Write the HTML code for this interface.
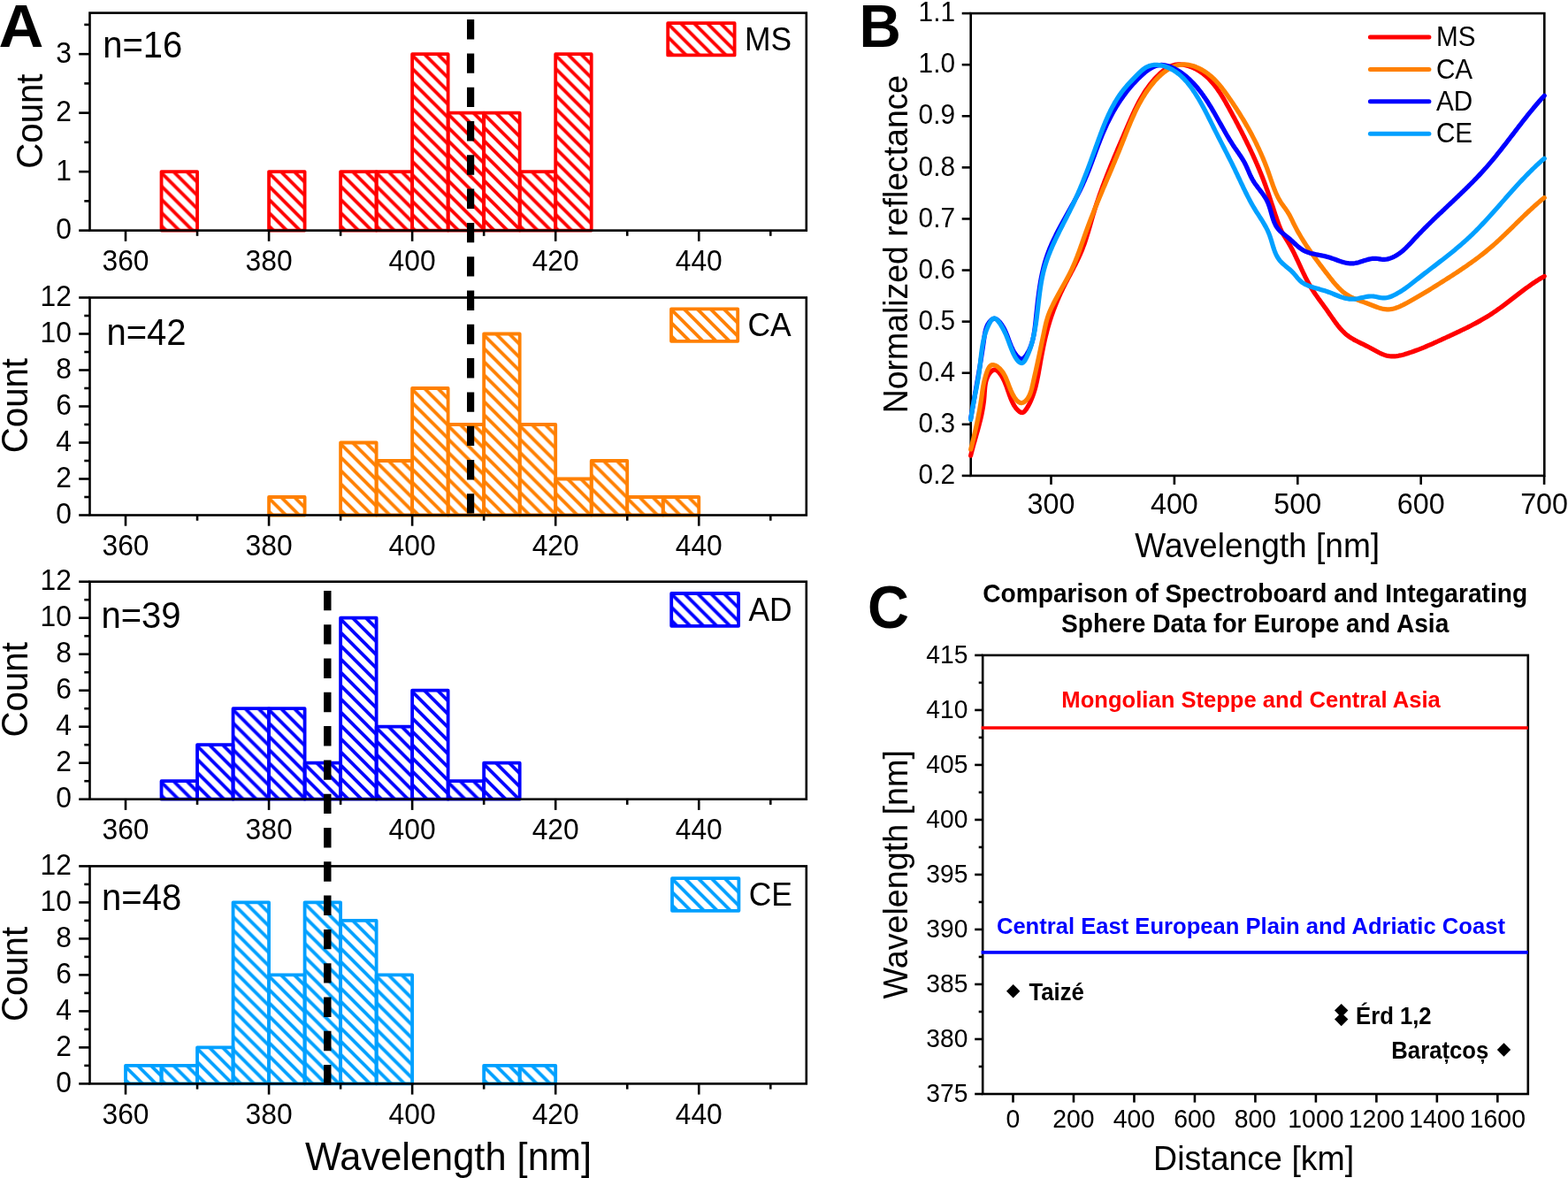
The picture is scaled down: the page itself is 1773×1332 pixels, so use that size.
<!DOCTYPE html><html><head><meta charset="utf-8"><title>Figure</title><style>html,body{margin:0;padding:0;background:#fff;width:1773px;height:1332px;overflow:hidden}svg{display:block}</style></head><body><svg width="1773" height="1332" viewBox="0 0 1773 1332" style="font-family:'Liberation Sans',Arial,sans-serif"><defs><pattern id="h1" patternUnits="userSpaceOnUse" x="182.53" y="195.41" width="15" height="15"><path d="M-4,-4L19,19M-19,-4L4,19M11,-4L34,19" stroke="#ff0000" stroke-width="3.8"/></pattern><pattern id="h2" patternUnits="userSpaceOnUse" x="304.07" y="195.41" width="15" height="15"><path d="M-4,-4L19,19M-19,-4L4,19M11,-4L34,19" stroke="#ff0000" stroke-width="3.8"/></pattern><pattern id="h3" patternUnits="userSpaceOnUse" x="385.11" y="195.41" width="15" height="15"><path d="M-4,-4L19,19M-19,-4L4,19M11,-4L34,19" stroke="#ff0000" stroke-width="3.8"/></pattern><pattern id="h4" patternUnits="userSpaceOnUse" x="425.62" y="195.41" width="15" height="15"><path d="M-4,-4L19,19M-19,-4L4,19M11,-4L34,19" stroke="#ff0000" stroke-width="3.8"/></pattern><pattern id="h5" patternUnits="userSpaceOnUse" x="466.13" y="62.44" width="15" height="15"><path d="M-4,-4L19,19M-19,-4L4,19M11,-4L34,19" stroke="#ff0000" stroke-width="3.8"/></pattern><pattern id="h6" patternUnits="userSpaceOnUse" x="506.65" y="128.93" width="15" height="15"><path d="M-4,-4L19,19M-19,-4L4,19M11,-4L34,19" stroke="#ff0000" stroke-width="3.8"/></pattern><pattern id="h7" patternUnits="userSpaceOnUse" x="547.16" y="128.93" width="15" height="15"><path d="M-4,-4L19,19M-19,-4L4,19M11,-4L34,19" stroke="#ff0000" stroke-width="3.8"/></pattern><pattern id="h8" patternUnits="userSpaceOnUse" x="587.68" y="195.41" width="15" height="15"><path d="M-4,-4L19,19M-19,-4L4,19M11,-4L34,19" stroke="#ff0000" stroke-width="3.8"/></pattern><pattern id="h9" patternUnits="userSpaceOnUse" x="628.20" y="62.44" width="15" height="15"><path d="M-4,-4L19,19M-19,-4L4,19M11,-4L34,19" stroke="#ff0000" stroke-width="3.8"/></pattern><pattern id="h10" patternUnits="userSpaceOnUse" x="755.20" y="26.70" width="15" height="15"><path d="M-4,-4L19,19M-19,-4L4,19M11,-4L34,19" stroke="#ff0000" stroke-width="3.8"/></pattern><pattern id="h11" patternUnits="userSpaceOnUse" x="304.07" y="563.30" width="15" height="15"><path d="M-4,-4L19,19M-19,-4L4,19M11,-4L34,19" stroke="#ff8000" stroke-width="3.8"/></pattern><pattern id="h12" patternUnits="userSpaceOnUse" x="385.11" y="501.80" width="15" height="15"><path d="M-4,-4L19,19M-19,-4L4,19M11,-4L34,19" stroke="#ff8000" stroke-width="3.8"/></pattern><pattern id="h13" patternUnits="userSpaceOnUse" x="425.62" y="522.30" width="15" height="15"><path d="M-4,-4L19,19M-19,-4L4,19M11,-4L34,19" stroke="#ff8000" stroke-width="3.8"/></pattern><pattern id="h14" patternUnits="userSpaceOnUse" x="466.13" y="440.30" width="15" height="15"><path d="M-4,-4L19,19M-19,-4L4,19M11,-4L34,19" stroke="#ff8000" stroke-width="3.8"/></pattern><pattern id="h15" patternUnits="userSpaceOnUse" x="506.65" y="481.30" width="15" height="15"><path d="M-4,-4L19,19M-19,-4L4,19M11,-4L34,19" stroke="#ff8000" stroke-width="3.8"/></pattern><pattern id="h16" patternUnits="userSpaceOnUse" x="547.16" y="378.80" width="15" height="15"><path d="M-4,-4L19,19M-19,-4L4,19M11,-4L34,19" stroke="#ff8000" stroke-width="3.8"/></pattern><pattern id="h17" patternUnits="userSpaceOnUse" x="587.68" y="481.30" width="15" height="15"><path d="M-4,-4L19,19M-19,-4L4,19M11,-4L34,19" stroke="#ff8000" stroke-width="3.8"/></pattern><pattern id="h18" patternUnits="userSpaceOnUse" x="628.20" y="542.80" width="15" height="15"><path d="M-4,-4L19,19M-19,-4L4,19M11,-4L34,19" stroke="#ff8000" stroke-width="3.8"/></pattern><pattern id="h19" patternUnits="userSpaceOnUse" x="668.71" y="522.30" width="15" height="15"><path d="M-4,-4L19,19M-19,-4L4,19M11,-4L34,19" stroke="#ff8000" stroke-width="3.8"/></pattern><pattern id="h20" patternUnits="userSpaceOnUse" x="709.23" y="563.30" width="15" height="15"><path d="M-4,-4L19,19M-19,-4L4,19M11,-4L34,19" stroke="#ff8000" stroke-width="3.8"/></pattern><pattern id="h21" patternUnits="userSpaceOnUse" x="749.74" y="563.30" width="15" height="15"><path d="M-4,-4L19,19M-19,-4L4,19M11,-4L34,19" stroke="#ff8000" stroke-width="3.8"/></pattern><pattern id="h22" patternUnits="userSpaceOnUse" x="759.00" y="349.90" width="15" height="15"><path d="M-4,-4L19,19M-19,-4L4,19M11,-4L34,19" stroke="#ff8000" stroke-width="3.8"/></pattern><pattern id="h23" patternUnits="userSpaceOnUse" x="182.53" y="884.50" width="15" height="15"><path d="M-4,-4L19,19M-19,-4L4,19M11,-4L34,19" stroke="#0000ff" stroke-width="3.8"/></pattern><pattern id="h24" patternUnits="userSpaceOnUse" x="223.05" y="843.50" width="15" height="15"><path d="M-4,-4L19,19M-19,-4L4,19M11,-4L34,19" stroke="#0000ff" stroke-width="3.8"/></pattern><pattern id="h25" patternUnits="userSpaceOnUse" x="263.56" y="802.50" width="15" height="15"><path d="M-4,-4L19,19M-19,-4L4,19M11,-4L34,19" stroke="#0000ff" stroke-width="3.8"/></pattern><pattern id="h26" patternUnits="userSpaceOnUse" x="304.07" y="802.50" width="15" height="15"><path d="M-4,-4L19,19M-19,-4L4,19M11,-4L34,19" stroke="#0000ff" stroke-width="3.8"/></pattern><pattern id="h27" patternUnits="userSpaceOnUse" x="344.59" y="864.00" width="15" height="15"><path d="M-4,-4L19,19M-19,-4L4,19M11,-4L34,19" stroke="#0000ff" stroke-width="3.8"/></pattern><pattern id="h28" patternUnits="userSpaceOnUse" x="385.11" y="700.00" width="15" height="15"><path d="M-4,-4L19,19M-19,-4L4,19M11,-4L34,19" stroke="#0000ff" stroke-width="3.8"/></pattern><pattern id="h29" patternUnits="userSpaceOnUse" x="425.62" y="823.00" width="15" height="15"><path d="M-4,-4L19,19M-19,-4L4,19M11,-4L34,19" stroke="#0000ff" stroke-width="3.8"/></pattern><pattern id="h30" patternUnits="userSpaceOnUse" x="466.13" y="782.00" width="15" height="15"><path d="M-4,-4L19,19M-19,-4L4,19M11,-4L34,19" stroke="#0000ff" stroke-width="3.8"/></pattern><pattern id="h31" patternUnits="userSpaceOnUse" x="506.65" y="884.50" width="15" height="15"><path d="M-4,-4L19,19M-19,-4L4,19M11,-4L34,19" stroke="#0000ff" stroke-width="3.8"/></pattern><pattern id="h32" patternUnits="userSpaceOnUse" x="547.16" y="864.00" width="15" height="15"><path d="M-4,-4L19,19M-19,-4L4,19M11,-4L34,19" stroke="#0000ff" stroke-width="3.8"/></pattern><pattern id="h33" patternUnits="userSpaceOnUse" x="759.20" y="671.50" width="15" height="15"><path d="M-4,-4L19,19M-19,-4L4,19M11,-4L34,19" stroke="#0000ff" stroke-width="3.8"/></pattern><pattern id="h34" patternUnits="userSpaceOnUse" x="142.01" y="1206.20" width="15" height="15"><path d="M-4,-4L19,19M-19,-4L4,19M11,-4L34,19" stroke="#00a0ff" stroke-width="3.8"/></pattern><pattern id="h35" patternUnits="userSpaceOnUse" x="182.53" y="1206.20" width="15" height="15"><path d="M-4,-4L19,19M-19,-4L4,19M11,-4L34,19" stroke="#00a0ff" stroke-width="3.8"/></pattern><pattern id="h36" patternUnits="userSpaceOnUse" x="223.05" y="1185.70" width="15" height="15"><path d="M-4,-4L19,19M-19,-4L4,19M11,-4L34,19" stroke="#00a0ff" stroke-width="3.8"/></pattern><pattern id="h37" patternUnits="userSpaceOnUse" x="263.56" y="1021.70" width="15" height="15"><path d="M-4,-4L19,19M-19,-4L4,19M11,-4L34,19" stroke="#00a0ff" stroke-width="3.8"/></pattern><pattern id="h38" patternUnits="userSpaceOnUse" x="304.07" y="1103.70" width="15" height="15"><path d="M-4,-4L19,19M-19,-4L4,19M11,-4L34,19" stroke="#00a0ff" stroke-width="3.8"/></pattern><pattern id="h39" patternUnits="userSpaceOnUse" x="344.59" y="1021.70" width="15" height="15"><path d="M-4,-4L19,19M-19,-4L4,19M11,-4L34,19" stroke="#00a0ff" stroke-width="3.8"/></pattern><pattern id="h40" patternUnits="userSpaceOnUse" x="385.11" y="1042.20" width="15" height="15"><path d="M-4,-4L19,19M-19,-4L4,19M11,-4L34,19" stroke="#00a0ff" stroke-width="3.8"/></pattern><pattern id="h41" patternUnits="userSpaceOnUse" x="425.62" y="1103.70" width="15" height="15"><path d="M-4,-4L19,19M-19,-4L4,19M11,-4L34,19" stroke="#00a0ff" stroke-width="3.8"/></pattern><pattern id="h42" patternUnits="userSpaceOnUse" x="547.16" y="1206.20" width="15" height="15"><path d="M-4,-4L19,19M-19,-4L4,19M11,-4L34,19" stroke="#00a0ff" stroke-width="3.8"/></pattern><pattern id="h43" patternUnits="userSpaceOnUse" x="587.68" y="1206.20" width="15" height="15"><path d="M-4,-4L19,19M-19,-4L4,19M11,-4L34,19" stroke="#00a0ff" stroke-width="3.8"/></pattern><pattern id="h44" patternUnits="userSpaceOnUse" x="760.00" y="993.70" width="15" height="15"><path d="M-4,-4L19,19M-19,-4L4,19M11,-4L34,19" stroke="#00a0ff" stroke-width="3.8"/></pattern></defs><rect width="1773" height="1332" fill="#fff"/><rect x="182.53" y="194.11" width="40.52" height="66.49" fill="url(#h1)" stroke="#ff0000" stroke-width="3.8" stroke-linejoin="round"/>
<rect x="304.07" y="194.11" width="40.52" height="66.49" fill="url(#h2)" stroke="#ff0000" stroke-width="3.8" stroke-linejoin="round"/>
<rect x="385.11" y="194.11" width="40.51" height="66.49" fill="url(#h3)" stroke="#ff0000" stroke-width="3.8" stroke-linejoin="round"/>
<rect x="425.62" y="194.11" width="40.51" height="66.49" fill="url(#h4)" stroke="#ff0000" stroke-width="3.8" stroke-linejoin="round"/>
<rect x="466.13" y="61.14" width="40.51" height="199.46" fill="url(#h5)" stroke="#ff0000" stroke-width="3.8" stroke-linejoin="round"/>
<rect x="506.65" y="127.63" width="40.51" height="132.97" fill="url(#h6)" stroke="#ff0000" stroke-width="3.8" stroke-linejoin="round"/>
<rect x="547.16" y="127.63" width="40.52" height="132.97" fill="url(#h7)" stroke="#ff0000" stroke-width="3.8" stroke-linejoin="round"/>
<rect x="587.68" y="194.11" width="40.51" height="66.49" fill="url(#h8)" stroke="#ff0000" stroke-width="3.8" stroke-linejoin="round"/>
<rect x="628.20" y="61.14" width="40.51" height="199.46" fill="url(#h9)" stroke="#ff0000" stroke-width="3.8" stroke-linejoin="round"/>
<rect x="101.5" y="14.6" width="810.30" height="246.0" fill="none" stroke="#000" stroke-width="2.6"/>
<line x1="89.20" y1="260.60" x2="101.5" y2="260.60" stroke="#000" stroke-width="2.6"/>
<text transform="translate(81.00,270.20) scale(1.0,1.04)" font-size="31.8" text-anchor="end">0</text>
<line x1="89.20" y1="194.11" x2="101.5" y2="194.11" stroke="#000" stroke-width="2.6"/>
<text transform="translate(81.00,203.71) scale(1.0,1.04)" font-size="31.8" text-anchor="end">1</text>
<line x1="89.20" y1="127.63" x2="101.5" y2="127.63" stroke="#000" stroke-width="2.6"/>
<text transform="translate(81.00,137.23) scale(1.0,1.04)" font-size="31.8" text-anchor="end">2</text>
<line x1="89.20" y1="61.14" x2="101.5" y2="61.14" stroke="#000" stroke-width="2.6"/>
<text transform="translate(81.00,70.74) scale(1.0,1.04)" font-size="31.8" text-anchor="end">3</text>
<line x1="95.30" y1="227.36" x2="101.5" y2="227.36" stroke="#000" stroke-width="2.6"/>
<line x1="95.30" y1="160.87" x2="101.5" y2="160.87" stroke="#000" stroke-width="2.6"/>
<line x1="95.30" y1="94.38" x2="101.5" y2="94.38" stroke="#000" stroke-width="2.6"/>
<line x1="95.30" y1="27.90" x2="101.5" y2="27.90" stroke="#000" stroke-width="2.6"/>
<line x1="142.01" y1="260.6" x2="142.01" y2="272.80" stroke="#000" stroke-width="2.6"/>
<text transform="translate(142.01,306.00) scale(1.0,1.04)" font-size="31.8" text-anchor="middle">360</text>
<line x1="304.07" y1="260.6" x2="304.07" y2="272.80" stroke="#000" stroke-width="2.6"/>
<text transform="translate(304.07,306.00) scale(1.0,1.04)" font-size="31.8" text-anchor="middle">380</text>
<line x1="466.13" y1="260.6" x2="466.13" y2="272.80" stroke="#000" stroke-width="2.6"/>
<text transform="translate(466.13,306.00) scale(1.0,1.04)" font-size="31.8" text-anchor="middle">400</text>
<line x1="628.20" y1="260.6" x2="628.20" y2="272.80" stroke="#000" stroke-width="2.6"/>
<text transform="translate(628.20,306.00) scale(1.0,1.04)" font-size="31.8" text-anchor="middle">420</text>
<line x1="790.25" y1="260.6" x2="790.25" y2="272.80" stroke="#000" stroke-width="2.6"/>
<text transform="translate(790.25,306.00) scale(1.0,1.04)" font-size="31.8" text-anchor="middle">440</text>
<line x1="223.05" y1="260.6" x2="223.05" y2="266.80" stroke="#000" stroke-width="2.6"/>
<line x1="385.11" y1="260.6" x2="385.11" y2="266.80" stroke="#000" stroke-width="2.6"/>
<line x1="547.16" y1="260.6" x2="547.16" y2="266.80" stroke="#000" stroke-width="2.6"/>
<line x1="709.23" y1="260.6" x2="709.23" y2="266.80" stroke="#000" stroke-width="2.6"/>
<line x1="871.28" y1="260.6" x2="871.28" y2="266.80" stroke="#000" stroke-width="2.6"/>
<text transform="translate(47.90,137.10) rotate(-90) scale(1.0,1.04)" font-size="40.2" text-anchor="middle">Count</text>
<text transform="translate(116.20,64.50) scale(1.0,1.04)" font-size="40">n=16</text>
<rect x="755.2" y="26.2" width="75.40" height="36.20" fill="url(#h10)" stroke="#ff0000" stroke-width="3.8" stroke-linejoin="round"/>
<text transform="translate(841.90,57.00) scale(1.0,1.04)" font-size="35.4">MS</text>
<rect x="304.07" y="562.00" width="40.52" height="20.50" fill="url(#h11)" stroke="#ff8000" stroke-width="3.8" stroke-linejoin="round"/>
<rect x="385.11" y="500.50" width="40.51" height="82.00" fill="url(#h12)" stroke="#ff8000" stroke-width="3.8" stroke-linejoin="round"/>
<rect x="425.62" y="521.00" width="40.51" height="61.50" fill="url(#h13)" stroke="#ff8000" stroke-width="3.8" stroke-linejoin="round"/>
<rect x="466.13" y="439.00" width="40.51" height="143.50" fill="url(#h14)" stroke="#ff8000" stroke-width="3.8" stroke-linejoin="round"/>
<rect x="506.65" y="480.00" width="40.51" height="102.50" fill="url(#h15)" stroke="#ff8000" stroke-width="3.8" stroke-linejoin="round"/>
<rect x="547.16" y="377.50" width="40.52" height="205.00" fill="url(#h16)" stroke="#ff8000" stroke-width="3.8" stroke-linejoin="round"/>
<rect x="587.68" y="480.00" width="40.51" height="102.50" fill="url(#h17)" stroke="#ff8000" stroke-width="3.8" stroke-linejoin="round"/>
<rect x="628.20" y="541.50" width="40.51" height="41.00" fill="url(#h18)" stroke="#ff8000" stroke-width="3.8" stroke-linejoin="round"/>
<rect x="668.71" y="521.00" width="40.51" height="61.50" fill="url(#h19)" stroke="#ff8000" stroke-width="3.8" stroke-linejoin="round"/>
<rect x="709.23" y="562.00" width="40.51" height="20.50" fill="url(#h20)" stroke="#ff8000" stroke-width="3.8" stroke-linejoin="round"/>
<rect x="749.74" y="562.00" width="40.51" height="20.50" fill="url(#h21)" stroke="#ff8000" stroke-width="3.8" stroke-linejoin="round"/>
<rect x="101.5" y="336.5" width="810.30" height="246.0" fill="none" stroke="#000" stroke-width="2.6"/>
<line x1="89.20" y1="582.50" x2="101.5" y2="582.50" stroke="#000" stroke-width="2.6"/>
<text transform="translate(81.00,592.10) scale(1.0,1.04)" font-size="31.8" text-anchor="end">0</text>
<line x1="89.20" y1="541.50" x2="101.5" y2="541.50" stroke="#000" stroke-width="2.6"/>
<text transform="translate(81.00,551.10) scale(1.0,1.04)" font-size="31.8" text-anchor="end">2</text>
<line x1="89.20" y1="500.50" x2="101.5" y2="500.50" stroke="#000" stroke-width="2.6"/>
<text transform="translate(81.00,510.10) scale(1.0,1.04)" font-size="31.8" text-anchor="end">4</text>
<line x1="89.20" y1="459.50" x2="101.5" y2="459.50" stroke="#000" stroke-width="2.6"/>
<text transform="translate(81.00,469.10) scale(1.0,1.04)" font-size="31.8" text-anchor="end">6</text>
<line x1="89.20" y1="418.50" x2="101.5" y2="418.50" stroke="#000" stroke-width="2.6"/>
<text transform="translate(81.00,428.10) scale(1.0,1.04)" font-size="31.8" text-anchor="end">8</text>
<line x1="89.20" y1="377.50" x2="101.5" y2="377.50" stroke="#000" stroke-width="2.6"/>
<text transform="translate(81.00,387.10) scale(1.0,1.04)" font-size="31.8" text-anchor="end">10</text>
<line x1="89.20" y1="336.50" x2="101.5" y2="336.50" stroke="#000" stroke-width="2.6"/>
<text transform="translate(81.00,346.10) scale(1.0,1.04)" font-size="31.8" text-anchor="end">12</text>
<line x1="95.30" y1="562.00" x2="101.5" y2="562.00" stroke="#000" stroke-width="2.6"/>
<line x1="95.30" y1="521.00" x2="101.5" y2="521.00" stroke="#000" stroke-width="2.6"/>
<line x1="95.30" y1="480.00" x2="101.5" y2="480.00" stroke="#000" stroke-width="2.6"/>
<line x1="95.30" y1="439.00" x2="101.5" y2="439.00" stroke="#000" stroke-width="2.6"/>
<line x1="95.30" y1="398.00" x2="101.5" y2="398.00" stroke="#000" stroke-width="2.6"/>
<line x1="95.30" y1="357.00" x2="101.5" y2="357.00" stroke="#000" stroke-width="2.6"/>
<line x1="142.01" y1="582.5" x2="142.01" y2="594.70" stroke="#000" stroke-width="2.6"/>
<text transform="translate(142.01,627.90) scale(1.0,1.04)" font-size="31.8" text-anchor="middle">360</text>
<line x1="304.07" y1="582.5" x2="304.07" y2="594.70" stroke="#000" stroke-width="2.6"/>
<text transform="translate(304.07,627.90) scale(1.0,1.04)" font-size="31.8" text-anchor="middle">380</text>
<line x1="466.13" y1="582.5" x2="466.13" y2="594.70" stroke="#000" stroke-width="2.6"/>
<text transform="translate(466.13,627.90) scale(1.0,1.04)" font-size="31.8" text-anchor="middle">400</text>
<line x1="628.20" y1="582.5" x2="628.20" y2="594.70" stroke="#000" stroke-width="2.6"/>
<text transform="translate(628.20,627.90) scale(1.0,1.04)" font-size="31.8" text-anchor="middle">420</text>
<line x1="790.25" y1="582.5" x2="790.25" y2="594.70" stroke="#000" stroke-width="2.6"/>
<text transform="translate(790.25,627.90) scale(1.0,1.04)" font-size="31.8" text-anchor="middle">440</text>
<line x1="223.05" y1="582.5" x2="223.05" y2="588.70" stroke="#000" stroke-width="2.6"/>
<line x1="385.11" y1="582.5" x2="385.11" y2="588.70" stroke="#000" stroke-width="2.6"/>
<line x1="547.16" y1="582.5" x2="547.16" y2="588.70" stroke="#000" stroke-width="2.6"/>
<line x1="709.23" y1="582.5" x2="709.23" y2="588.70" stroke="#000" stroke-width="2.6"/>
<line x1="871.28" y1="582.5" x2="871.28" y2="588.70" stroke="#000" stroke-width="2.6"/>
<text transform="translate(30.80,458.60) rotate(-90) scale(1.0,1.04)" font-size="40.2" text-anchor="middle">Count</text>
<text transform="translate(120.40,390.10) scale(1.0,1.04)" font-size="40">n=42</text>
<rect x="759.0" y="349.4" width="75.20" height="36.40" fill="url(#h22)" stroke="#ff8000" stroke-width="3.8" stroke-linejoin="round"/>
<text transform="translate(845.50,380.40) scale(1.0,1.04)" font-size="35.4">CA</text>
<rect x="182.53" y="883.20" width="40.52" height="20.50" fill="url(#h23)" stroke="#0000ff" stroke-width="3.8" stroke-linejoin="round"/>
<rect x="223.05" y="842.20" width="40.51" height="61.50" fill="url(#h24)" stroke="#0000ff" stroke-width="3.8" stroke-linejoin="round"/>
<rect x="263.56" y="801.20" width="40.51" height="102.50" fill="url(#h25)" stroke="#0000ff" stroke-width="3.8" stroke-linejoin="round"/>
<rect x="304.07" y="801.20" width="40.52" height="102.50" fill="url(#h26)" stroke="#0000ff" stroke-width="3.8" stroke-linejoin="round"/>
<rect x="344.59" y="862.70" width="40.51" height="41.00" fill="url(#h27)" stroke="#0000ff" stroke-width="3.8" stroke-linejoin="round"/>
<rect x="385.11" y="698.70" width="40.51" height="205.00" fill="url(#h28)" stroke="#0000ff" stroke-width="3.8" stroke-linejoin="round"/>
<rect x="425.62" y="821.70" width="40.51" height="82.00" fill="url(#h29)" stroke="#0000ff" stroke-width="3.8" stroke-linejoin="round"/>
<rect x="466.13" y="780.70" width="40.51" height="123.00" fill="url(#h30)" stroke="#0000ff" stroke-width="3.8" stroke-linejoin="round"/>
<rect x="506.65" y="883.20" width="40.51" height="20.50" fill="url(#h31)" stroke="#0000ff" stroke-width="3.8" stroke-linejoin="round"/>
<rect x="547.16" y="862.70" width="40.52" height="41.00" fill="url(#h32)" stroke="#0000ff" stroke-width="3.8" stroke-linejoin="round"/>
<rect x="101.5" y="657.7" width="810.30" height="246.0" fill="none" stroke="#000" stroke-width="2.6"/>
<line x1="89.20" y1="903.70" x2="101.5" y2="903.70" stroke="#000" stroke-width="2.6"/>
<text transform="translate(81.00,913.30) scale(1.0,1.04)" font-size="31.8" text-anchor="end">0</text>
<line x1="89.20" y1="862.70" x2="101.5" y2="862.70" stroke="#000" stroke-width="2.6"/>
<text transform="translate(81.00,872.30) scale(1.0,1.04)" font-size="31.8" text-anchor="end">2</text>
<line x1="89.20" y1="821.70" x2="101.5" y2="821.70" stroke="#000" stroke-width="2.6"/>
<text transform="translate(81.00,831.30) scale(1.0,1.04)" font-size="31.8" text-anchor="end">4</text>
<line x1="89.20" y1="780.70" x2="101.5" y2="780.70" stroke="#000" stroke-width="2.6"/>
<text transform="translate(81.00,790.30) scale(1.0,1.04)" font-size="31.8" text-anchor="end">6</text>
<line x1="89.20" y1="739.70" x2="101.5" y2="739.70" stroke="#000" stroke-width="2.6"/>
<text transform="translate(81.00,749.30) scale(1.0,1.04)" font-size="31.8" text-anchor="end">8</text>
<line x1="89.20" y1="698.70" x2="101.5" y2="698.70" stroke="#000" stroke-width="2.6"/>
<text transform="translate(81.00,708.30) scale(1.0,1.04)" font-size="31.8" text-anchor="end">10</text>
<line x1="89.20" y1="657.70" x2="101.5" y2="657.70" stroke="#000" stroke-width="2.6"/>
<text transform="translate(81.00,667.30) scale(1.0,1.04)" font-size="31.8" text-anchor="end">12</text>
<line x1="95.30" y1="883.20" x2="101.5" y2="883.20" stroke="#000" stroke-width="2.6"/>
<line x1="95.30" y1="842.20" x2="101.5" y2="842.20" stroke="#000" stroke-width="2.6"/>
<line x1="95.30" y1="801.20" x2="101.5" y2="801.20" stroke="#000" stroke-width="2.6"/>
<line x1="95.30" y1="760.20" x2="101.5" y2="760.20" stroke="#000" stroke-width="2.6"/>
<line x1="95.30" y1="719.20" x2="101.5" y2="719.20" stroke="#000" stroke-width="2.6"/>
<line x1="95.30" y1="678.20" x2="101.5" y2="678.20" stroke="#000" stroke-width="2.6"/>
<line x1="142.01" y1="903.7" x2="142.01" y2="915.90" stroke="#000" stroke-width="2.6"/>
<text transform="translate(142.01,949.10) scale(1.0,1.04)" font-size="31.8" text-anchor="middle">360</text>
<line x1="304.07" y1="903.7" x2="304.07" y2="915.90" stroke="#000" stroke-width="2.6"/>
<text transform="translate(304.07,949.10) scale(1.0,1.04)" font-size="31.8" text-anchor="middle">380</text>
<line x1="466.13" y1="903.7" x2="466.13" y2="915.90" stroke="#000" stroke-width="2.6"/>
<text transform="translate(466.13,949.10) scale(1.0,1.04)" font-size="31.8" text-anchor="middle">400</text>
<line x1="628.20" y1="903.7" x2="628.20" y2="915.90" stroke="#000" stroke-width="2.6"/>
<text transform="translate(628.20,949.10) scale(1.0,1.04)" font-size="31.8" text-anchor="middle">420</text>
<line x1="790.25" y1="903.7" x2="790.25" y2="915.90" stroke="#000" stroke-width="2.6"/>
<text transform="translate(790.25,949.10) scale(1.0,1.04)" font-size="31.8" text-anchor="middle">440</text>
<line x1="223.05" y1="903.7" x2="223.05" y2="909.90" stroke="#000" stroke-width="2.6"/>
<line x1="385.11" y1="903.7" x2="385.11" y2="909.90" stroke="#000" stroke-width="2.6"/>
<line x1="547.16" y1="903.7" x2="547.16" y2="909.90" stroke="#000" stroke-width="2.6"/>
<line x1="709.23" y1="903.7" x2="709.23" y2="909.90" stroke="#000" stroke-width="2.6"/>
<line x1="871.28" y1="903.7" x2="871.28" y2="909.90" stroke="#000" stroke-width="2.6"/>
<text transform="translate(30.80,779.80) rotate(-90) scale(1.0,1.04)" font-size="40.2" text-anchor="middle">Count</text>
<text transform="translate(114.40,709.60) scale(1.0,1.04)" font-size="40">n=39</text>
<rect x="759.2" y="671.0" width="75.90" height="36.80" fill="url(#h33)" stroke="#0000ff" stroke-width="3.8" stroke-linejoin="round"/>
<text transform="translate(846.40,702.40) scale(1.0,1.04)" font-size="35.4">AD</text>
<rect x="142.01" y="1204.90" width="40.52" height="20.50" fill="url(#h34)" stroke="#00a0ff" stroke-width="3.8" stroke-linejoin="round"/>
<rect x="182.53" y="1204.90" width="40.52" height="20.50" fill="url(#h35)" stroke="#00a0ff" stroke-width="3.8" stroke-linejoin="round"/>
<rect x="223.05" y="1184.40" width="40.51" height="41.00" fill="url(#h36)" stroke="#00a0ff" stroke-width="3.8" stroke-linejoin="round"/>
<rect x="263.56" y="1020.40" width="40.51" height="205.00" fill="url(#h37)" stroke="#00a0ff" stroke-width="3.8" stroke-linejoin="round"/>
<rect x="304.07" y="1102.40" width="40.52" height="123.00" fill="url(#h38)" stroke="#00a0ff" stroke-width="3.8" stroke-linejoin="round"/>
<rect x="344.59" y="1020.40" width="40.51" height="205.00" fill="url(#h39)" stroke="#00a0ff" stroke-width="3.8" stroke-linejoin="round"/>
<rect x="385.11" y="1040.90" width="40.51" height="184.50" fill="url(#h40)" stroke="#00a0ff" stroke-width="3.8" stroke-linejoin="round"/>
<rect x="425.62" y="1102.40" width="40.51" height="123.00" fill="url(#h41)" stroke="#00a0ff" stroke-width="3.8" stroke-linejoin="round"/>
<rect x="547.16" y="1204.90" width="40.52" height="20.50" fill="url(#h42)" stroke="#00a0ff" stroke-width="3.8" stroke-linejoin="round"/>
<rect x="587.68" y="1204.90" width="40.51" height="20.50" fill="url(#h43)" stroke="#00a0ff" stroke-width="3.8" stroke-linejoin="round"/>
<rect x="101.5" y="979.4" width="810.30" height="246.0" fill="none" stroke="#000" stroke-width="2.6"/>
<line x1="89.20" y1="1225.40" x2="101.5" y2="1225.40" stroke="#000" stroke-width="2.6"/>
<text transform="translate(81.00,1235.00) scale(1.0,1.04)" font-size="31.8" text-anchor="end">0</text>
<line x1="89.20" y1="1184.40" x2="101.5" y2="1184.40" stroke="#000" stroke-width="2.6"/>
<text transform="translate(81.00,1194.00) scale(1.0,1.04)" font-size="31.8" text-anchor="end">2</text>
<line x1="89.20" y1="1143.40" x2="101.5" y2="1143.40" stroke="#000" stroke-width="2.6"/>
<text transform="translate(81.00,1153.00) scale(1.0,1.04)" font-size="31.8" text-anchor="end">4</text>
<line x1="89.20" y1="1102.40" x2="101.5" y2="1102.40" stroke="#000" stroke-width="2.6"/>
<text transform="translate(81.00,1112.00) scale(1.0,1.04)" font-size="31.8" text-anchor="end">6</text>
<line x1="89.20" y1="1061.40" x2="101.5" y2="1061.40" stroke="#000" stroke-width="2.6"/>
<text transform="translate(81.00,1071.00) scale(1.0,1.04)" font-size="31.8" text-anchor="end">8</text>
<line x1="89.20" y1="1020.40" x2="101.5" y2="1020.40" stroke="#000" stroke-width="2.6"/>
<text transform="translate(81.00,1030.00) scale(1.0,1.04)" font-size="31.8" text-anchor="end">10</text>
<line x1="89.20" y1="979.40" x2="101.5" y2="979.40" stroke="#000" stroke-width="2.6"/>
<text transform="translate(81.00,989.00) scale(1.0,1.04)" font-size="31.8" text-anchor="end">12</text>
<line x1="95.30" y1="1204.90" x2="101.5" y2="1204.90" stroke="#000" stroke-width="2.6"/>
<line x1="95.30" y1="1163.90" x2="101.5" y2="1163.90" stroke="#000" stroke-width="2.6"/>
<line x1="95.30" y1="1122.90" x2="101.5" y2="1122.90" stroke="#000" stroke-width="2.6"/>
<line x1="95.30" y1="1081.90" x2="101.5" y2="1081.90" stroke="#000" stroke-width="2.6"/>
<line x1="95.30" y1="1040.90" x2="101.5" y2="1040.90" stroke="#000" stroke-width="2.6"/>
<line x1="95.30" y1="999.90" x2="101.5" y2="999.90" stroke="#000" stroke-width="2.6"/>
<line x1="142.01" y1="1225.4" x2="142.01" y2="1237.60" stroke="#000" stroke-width="2.6"/>
<text transform="translate(142.01,1270.80) scale(1.0,1.04)" font-size="31.8" text-anchor="middle">360</text>
<line x1="304.07" y1="1225.4" x2="304.07" y2="1237.60" stroke="#000" stroke-width="2.6"/>
<text transform="translate(304.07,1270.80) scale(1.0,1.04)" font-size="31.8" text-anchor="middle">380</text>
<line x1="466.13" y1="1225.4" x2="466.13" y2="1237.60" stroke="#000" stroke-width="2.6"/>
<text transform="translate(466.13,1270.80) scale(1.0,1.04)" font-size="31.8" text-anchor="middle">400</text>
<line x1="628.20" y1="1225.4" x2="628.20" y2="1237.60" stroke="#000" stroke-width="2.6"/>
<text transform="translate(628.20,1270.80) scale(1.0,1.04)" font-size="31.8" text-anchor="middle">420</text>
<line x1="790.25" y1="1225.4" x2="790.25" y2="1237.60" stroke="#000" stroke-width="2.6"/>
<text transform="translate(790.25,1270.80) scale(1.0,1.04)" font-size="31.8" text-anchor="middle">440</text>
<line x1="223.05" y1="1225.4" x2="223.05" y2="1231.60" stroke="#000" stroke-width="2.6"/>
<line x1="385.11" y1="1225.4" x2="385.11" y2="1231.60" stroke="#000" stroke-width="2.6"/>
<line x1="547.16" y1="1225.4" x2="547.16" y2="1231.60" stroke="#000" stroke-width="2.6"/>
<line x1="709.23" y1="1225.4" x2="709.23" y2="1231.60" stroke="#000" stroke-width="2.6"/>
<line x1="871.28" y1="1225.4" x2="871.28" y2="1231.60" stroke="#000" stroke-width="2.6"/>
<text transform="translate(30.80,1101.50) rotate(-90) scale(1.0,1.04)" font-size="40.2" text-anchor="middle">Count</text>
<text transform="translate(115.10,1028.50) scale(1.0,1.04)" font-size="40">n=48</text>
<rect x="760.0" y="993.2" width="75.40" height="36.60" fill="url(#h44)" stroke="#00a0ff" stroke-width="3.8" stroke-linejoin="round"/>
<text transform="translate(846.70,1024.40) scale(1.0,1.04)" font-size="35.4">CE</text>
<line x1="532.1" y1="22.1" x2="532.1" y2="580.6" stroke="#000" stroke-width="8.2" stroke-dasharray="22.4 15.9"/>
<line x1="370.3" y1="667.9" x2="370.3" y2="1226.4" stroke="#000" stroke-width="8.4" stroke-dasharray="22.4 15.9"/>
<text transform="translate(345.00,1323.40) scale(1.0,1.04)" font-size="43.4">Wavelength [nm]</text>
<text transform="translate(-1.60,52.60) scale(1.075,1.045)" font-size="65.5" font-weight="bold">A</text>
<rect x="1097.7" y="15.1" width="648.60" height="522.80" fill="none" stroke="#000" stroke-width="2.6"/>
<line x1="1087.70" y1="537.90" x2="1097.7" y2="537.90" stroke="#000" stroke-width="2.6"/>
<text transform="translate(1080.00,547.10) scale(1.0,1.04)" font-size="29.8" text-anchor="end">0.2</text>
<line x1="1087.70" y1="479.81" x2="1097.7" y2="479.81" stroke="#000" stroke-width="2.6"/>
<text transform="translate(1080.00,489.01) scale(1.0,1.04)" font-size="29.8" text-anchor="end">0.3</text>
<line x1="1087.70" y1="421.72" x2="1097.7" y2="421.72" stroke="#000" stroke-width="2.6"/>
<text transform="translate(1080.00,430.92) scale(1.0,1.04)" font-size="29.8" text-anchor="end">0.4</text>
<line x1="1087.70" y1="363.63" x2="1097.7" y2="363.63" stroke="#000" stroke-width="2.6"/>
<text transform="translate(1080.00,372.83) scale(1.0,1.04)" font-size="29.8" text-anchor="end">0.5</text>
<line x1="1087.70" y1="305.54" x2="1097.7" y2="305.54" stroke="#000" stroke-width="2.6"/>
<text transform="translate(1080.00,314.74) scale(1.0,1.04)" font-size="29.8" text-anchor="end">0.6</text>
<line x1="1087.70" y1="247.46" x2="1097.7" y2="247.46" stroke="#000" stroke-width="2.6"/>
<text transform="translate(1080.00,256.66) scale(1.0,1.04)" font-size="29.8" text-anchor="end">0.7</text>
<line x1="1087.70" y1="189.37" x2="1097.7" y2="189.37" stroke="#000" stroke-width="2.6"/>
<text transform="translate(1080.00,198.57) scale(1.0,1.04)" font-size="29.8" text-anchor="end">0.8</text>
<line x1="1087.70" y1="131.28" x2="1097.7" y2="131.28" stroke="#000" stroke-width="2.6"/>
<text transform="translate(1080.00,140.48) scale(1.0,1.04)" font-size="29.8" text-anchor="end">0.9</text>
<line x1="1087.70" y1="73.19" x2="1097.7" y2="73.19" stroke="#000" stroke-width="2.6"/>
<text transform="translate(1080.00,82.39) scale(1.0,1.04)" font-size="29.8" text-anchor="end">1.0</text>
<line x1="1087.70" y1="15.10" x2="1097.7" y2="15.10" stroke="#000" stroke-width="2.6"/>
<text transform="translate(1080.00,24.30) scale(1.0,1.04)" font-size="29.8" text-anchor="end">1.1</text>
<line x1="1188.50" y1="537.9" x2="1188.50" y2="547.90" stroke="#000" stroke-width="2.6"/>
<text transform="translate(1188.50,580.60) scale(1.0,1.04)" font-size="32.3" text-anchor="middle">300</text>
<line x1="1327.90" y1="537.9" x2="1327.90" y2="547.90" stroke="#000" stroke-width="2.6"/>
<text transform="translate(1327.90,580.60) scale(1.0,1.04)" font-size="32.3" text-anchor="middle">400</text>
<line x1="1467.30" y1="537.9" x2="1467.30" y2="547.90" stroke="#000" stroke-width="2.6"/>
<text transform="translate(1467.30,580.60) scale(1.0,1.04)" font-size="32.3" text-anchor="middle">500</text>
<line x1="1606.70" y1="537.9" x2="1606.70" y2="547.90" stroke="#000" stroke-width="2.6"/>
<text transform="translate(1606.70,580.60) scale(1.0,1.04)" font-size="32.3" text-anchor="middle">600</text>
<line x1="1746.10" y1="537.9" x2="1746.10" y2="547.90" stroke="#000" stroke-width="2.6"/>
<text transform="translate(1746.10,580.60) scale(1.0,1.04)" font-size="32.3" text-anchor="middle">700</text>
<text transform="translate(1283.30,629.90) scale(1.0,1.04)" font-size="37.1">Wavelength [nm]</text>
<text transform="translate(1025.80,276.00) rotate(-90) scale(1.0,1.04)" font-size="37.4" text-anchor="middle">Normalized reflectance</text>
<path d="M1097.63,515.21 L1098.13,513.16 L1098.64,511.13 L1099.16,509.11 L1099.70,507.10 L1100.24,505.10 L1100.78,503.12 L1101.33,501.14 L1101.89,499.17 L1102.44,497.20 L1103.00,495.25 L1103.55,493.29 L1104.11,491.34 L1104.66,489.40 L1105.20,487.45 L1105.74,485.51 L1106.27,483.56 L1106.80,481.61 L1107.31,479.66 L1107.81,477.71 L1108.30,475.75 L1108.78,473.78 L1109.24,471.81 L1109.68,469.83 L1110.10,467.84 L1110.51,465.84 L1110.89,463.83 L1111.26,461.81 L1111.59,459.77 L1111.91,457.72 L1112.20,455.65 L1112.46,453.57 L1112.69,451.47 L1112.89,449.35 L1113.06,447.20 L1113.20,445.05 L1113.35,442.89 L1113.51,440.72 L1113.70,438.57 L1113.94,436.43 L1114.25,434.31 L1114.65,432.23 L1115.16,430.19 L1115.79,428.20 L1116.56,426.27 L1117.50,424.40 L1118.61,422.61 L1119.89,420.96 L1121.29,419.57 L1122.77,418.57 L1124.29,418.08 L1125.79,418.21 L1127.26,418.94 L1128.67,420.11 L1130.00,421.58 L1131.24,423.20 L1132.38,424.89 L1133.44,426.64 L1134.41,428.44 L1135.32,430.31 L1136.17,432.22 L1136.97,434.18 L1137.74,436.19 L1138.48,438.23 L1139.21,440.31 L1139.94,442.41 L1140.67,444.51 L1141.41,446.61 L1142.18,448.69 L1142.97,450.74 L1143.81,452.75 L1144.70,454.70 L1145.64,456.58 L1146.65,458.38 L1147.75,460.08 L1148.92,461.67 L1150.20,463.14 L1151.57,464.48 L1153.04,465.62 L1154.54,466.37 L1156.01,466.53 L1157.38,466.01 L1158.68,464.93 L1159.90,463.45 L1161.05,461.74 L1162.13,459.93 L1163.16,458.10 L1164.12,456.25 L1165.03,454.37 L1165.88,452.48 L1166.69,450.56 L1167.45,448.63 L1168.16,446.68 L1168.83,444.72 L1169.46,442.74 L1170.05,440.75 L1170.61,438.75 L1171.14,436.73 L1171.63,434.71 L1172.11,432.68 L1172.56,430.64 L1172.98,428.60 L1173.39,426.55 L1173.79,424.50 L1174.17,422.45 L1174.54,420.39 L1174.90,418.34 L1175.26,416.29 L1175.62,414.24 L1175.98,412.19 L1176.34,410.15 L1176.70,408.11 L1177.06,406.08 L1177.43,404.05 L1177.81,402.02 L1178.19,400.00 L1178.57,397.98 L1178.97,395.97 L1179.37,393.96 L1179.77,391.96 L1180.19,389.96 L1180.62,387.96 L1181.05,385.97 L1181.50,383.98 L1181.96,381.99 L1182.43,380.01 L1182.91,378.03 L1183.41,376.06 L1183.92,374.09 L1184.44,372.12 L1184.98,370.15 L1185.54,368.19 L1186.12,366.24 L1186.71,364.28 L1187.31,362.33 L1187.94,360.39 L1188.58,358.44 L1189.24,356.51 L1189.91,354.57 L1190.60,352.64 L1191.31,350.72 L1192.03,348.80 L1192.77,346.88 L1193.53,344.97 L1194.30,343.06 L1195.08,341.16 L1195.88,339.27 L1196.70,337.38 L1197.53,335.49 L1198.37,333.61 L1199.23,331.74 L1200.10,329.87 L1200.99,328.01 L1201.89,326.16 L1202.80,324.31 L1203.73,322.47 L1204.66,320.64 L1205.61,318.81 L1206.56,316.98 L1207.52,315.16 L1208.48,313.33 L1209.44,311.51 L1210.40,309.69 L1211.37,307.88 L1212.33,306.06 L1213.28,304.24 L1214.23,302.41 L1215.17,300.59 L1216.10,298.76 L1217.01,296.92 L1217.92,295.08 L1218.81,293.24 L1219.68,291.39 L1220.53,289.53 L1221.37,287.66 L1222.18,285.79 L1222.97,283.90 L1223.73,282.01 L1224.47,280.10 L1225.18,278.19 L1225.88,276.26 L1226.56,274.33 L1227.21,272.39 L1227.86,270.45 L1228.48,268.50 L1229.10,266.54 L1229.70,264.58 L1230.30,262.62 L1230.88,260.65 L1231.46,258.68 L1232.04,256.70 L1232.61,254.73 L1233.18,252.75 L1233.75,250.77 L1234.32,248.80 L1234.89,246.82 L1235.47,244.85 L1236.06,242.87 L1236.65,240.90 L1237.25,238.94 L1237.86,236.98 L1238.48,235.02 L1239.11,233.06 L1239.75,231.10 L1240.40,229.15 L1241.05,227.20 L1241.71,225.26 L1242.38,223.32 L1243.05,221.38 L1243.74,219.44 L1244.42,217.50 L1245.12,215.57 L1245.82,213.64 L1246.53,211.71 L1247.25,209.78 L1247.97,207.86 L1248.70,205.94 L1249.43,204.02 L1250.17,202.10 L1250.91,200.19 L1251.66,198.27 L1252.41,196.36 L1253.17,194.45 L1253.93,192.55 L1254.70,190.64 L1255.47,188.73 L1256.25,186.83 L1257.02,184.93 L1257.80,183.03 L1258.59,181.13 L1259.38,179.23 L1260.17,177.34 L1260.96,175.44 L1261.76,173.55 L1262.56,171.66 L1263.36,169.77 L1264.16,167.88 L1264.96,165.99 L1265.77,164.10 L1266.58,162.21 L1267.39,160.32 L1268.20,158.44 L1269.01,156.55 L1269.82,154.67 L1270.63,152.78 L1271.44,150.90 L1272.25,149.01 L1273.06,147.13 L1273.87,145.25 L1274.68,143.36 L1275.49,141.48 L1276.31,139.60 L1277.12,137.72 L1277.94,135.85 L1278.77,133.97 L1279.60,132.11 L1280.44,130.24 L1281.29,128.38 L1282.15,126.53 L1283.02,124.68 L1283.91,122.85 L1284.80,121.01 L1285.72,119.19 L1286.65,117.38 L1287.60,115.57 L1288.57,113.78 L1289.55,112.00 L1290.56,110.23 L1291.60,108.47 L1292.65,106.72 L1293.74,104.99 L1294.84,103.27 L1295.98,101.57 L1297.15,99.88 L1298.34,98.21 L1299.57,96.55 L1300.83,94.92 L1302.13,93.30 L1303.46,91.70 L1304.82,90.11 L1306.23,88.55 L1307.67,87.01 L1309.15,85.49 L1310.68,84.00 L1312.24,82.55 L1313.85,81.15 L1315.49,79.82 L1317.18,78.56 L1318.91,77.40 L1320.67,76.34 L1322.48,75.40 L1324.33,74.59 L1326.21,73.92 L1328.14,73.41 L1330.11,73.07 L1332.10,72.89 L1334.13,72.87 L1336.17,73.00 L1338.22,73.26 L1340.26,73.65 L1342.30,74.15 L1344.31,74.75 L1346.30,75.45 L1348.24,76.23 L1350.15,77.09 L1351.99,78.00 L1353.79,78.98 L1355.54,80.02 L1357.24,81.11 L1358.89,82.26 L1360.50,83.46 L1362.06,84.71 L1363.59,86.01 L1365.07,87.35 L1366.51,88.75 L1367.92,90.18 L1369.29,91.65 L1370.63,93.16 L1371.94,94.71 L1373.21,96.29 L1374.46,97.90 L1375.68,99.54 L1376.87,101.21 L1378.04,102.90 L1379.19,104.62 L1380.31,106.36 L1381.42,108.12 L1382.50,109.89 L1383.58,111.68 L1384.63,113.48 L1385.68,115.29 L1386.71,117.11 L1387.73,118.94 L1388.75,120.77 L1389.75,122.60 L1390.76,124.43 L1391.75,126.26 L1392.75,128.09 L1393.74,129.92 L1394.72,131.75 L1395.71,133.58 L1396.68,135.40 L1397.66,137.23 L1398.62,139.05 L1399.59,140.88 L1400.54,142.70 L1401.50,144.52 L1402.45,146.35 L1403.39,148.17 L1404.33,150.00 L1405.26,151.83 L1406.19,153.65 L1407.11,155.48 L1408.02,157.31 L1408.93,159.14 L1409.84,160.97 L1410.73,162.81 L1411.62,164.64 L1412.51,166.48 L1413.39,168.32 L1414.26,170.16 L1415.13,172.01 L1415.99,173.85 L1416.84,175.70 L1417.69,177.56 L1418.53,179.41 L1419.36,181.27 L1420.18,183.13 L1421.00,185.00 L1421.81,186.87 L1422.61,188.74 L1423.41,190.62 L1424.20,192.50 L1424.98,194.39 L1425.75,196.28 L1426.51,198.17 L1427.27,200.07 L1428.02,201.98 L1428.75,203.89 L1429.49,205.81 L1430.21,207.73 L1430.92,209.65 L1431.63,211.59 L1432.32,213.53 L1433.01,215.47 L1433.69,217.42 L1434.36,219.38 L1435.03,221.34 L1435.68,223.31 L1436.33,225.27 L1436.98,227.24 L1437.63,229.21 L1438.27,231.18 L1438.91,233.15 L1439.55,235.12 L1440.19,237.09 L1440.83,239.05 L1441.48,241.00 L1442.13,242.95 L1442.79,244.90 L1443.45,246.83 L1444.12,248.76 L1444.79,250.68 L1445.48,252.58 L1446.18,254.48 L1446.92,256.35 L1447.69,258.21 L1448.51,260.04 L1449.38,261.85 L1450.32,263.63 L1451.32,265.39 L1452.36,267.13 L1453.43,268.86 L1454.52,270.58 L1455.60,272.32 L1456.67,274.06 L1457.71,275.82 L1458.72,277.60 L1459.71,279.40 L1460.68,281.21 L1461.63,283.03 L1462.56,284.86 L1463.48,286.70 L1464.38,288.55 L1465.27,290.41 L1466.15,292.27 L1467.03,294.14 L1467.89,296.01 L1468.76,297.89 L1469.62,299.76 L1470.48,301.64 L1471.34,303.51 L1472.21,305.38 L1473.09,307.24 L1473.97,309.10 L1474.86,310.96 L1475.77,312.80 L1476.69,314.63 L1477.62,316.46 L1478.57,318.27 L1479.55,320.06 L1480.54,321.85 L1481.56,323.61 L1482.61,325.36 L1483.68,327.09 L1484.77,328.80 L1485.89,330.50 L1487.03,332.19 L1488.19,333.87 L1489.36,335.53 L1490.55,337.20 L1491.75,338.85 L1492.96,340.51 L1494.17,342.17 L1495.39,343.82 L1496.61,345.49 L1497.83,347.16 L1499.04,348.83 L1500.25,350.52 L1501.46,352.22 L1502.65,353.93 L1503.84,355.66 L1505.03,357.38 L1506.22,359.11 L1507.41,360.83 L1508.62,362.53 L1509.84,364.23 L1511.07,365.90 L1512.32,367.55 L1513.60,369.16 L1514.91,370.74 L1516.25,372.28 L1517.62,373.78 L1519.03,375.22 L1520.48,376.61 L1521.98,377.94 L1523.53,379.20 L1525.13,380.40 L1526.79,381.53 L1528.48,382.60 L1530.22,383.63 L1531.99,384.62 L1533.79,385.57 L1535.62,386.50 L1537.47,387.42 L1539.33,388.32 L1541.21,389.22 L1543.09,390.14 L1544.98,391.06 L1546.86,392.01 L1548.73,392.99 L1550.60,394.00 L1552.45,395.02 L1554.30,396.05 L1556.15,397.07 L1558.00,398.05 L1559.85,398.99 L1561.71,399.87 L1563.58,400.67 L1565.46,401.37 L1567.36,401.97 L1569.28,402.43 L1571.22,402.76 L1573.18,402.93 L1575.17,402.96 L1577.17,402.86 L1579.19,402.64 L1581.21,402.32 L1583.24,401.91 L1585.27,401.43 L1587.30,400.89 L1589.32,400.30 L1591.33,399.68 L1593.32,399.04 L1595.30,398.38 L1597.27,397.70 L1599.22,397.01 L1601.16,396.30 L1603.09,395.57 L1605.01,394.83 L1606.92,394.08 L1608.82,393.31 L1610.71,392.54 L1612.60,391.75 L1614.48,390.95 L1616.35,390.15 L1618.22,389.33 L1620.08,388.51 L1621.94,387.68 L1623.80,386.84 L1625.66,386.00 L1627.51,385.16 L1629.37,384.31 L1631.22,383.46 L1633.08,382.60 L1634.94,381.75 L1636.80,380.89 L1638.66,380.03 L1640.53,379.17 L1642.39,378.31 L1644.26,377.44 L1646.12,376.57 L1647.99,375.69 L1649.85,374.81 L1651.71,373.93 L1653.57,373.03 L1655.42,372.13 L1657.27,371.23 L1659.12,370.31 L1660.96,369.39 L1662.80,368.45 L1664.63,367.51 L1666.46,366.55 L1668.28,365.59 L1670.09,364.61 L1671.90,363.63 L1673.70,362.63 L1675.49,361.61 L1677.27,360.58 L1679.04,359.54 L1680.80,358.49 L1682.55,357.42 L1684.29,356.33 L1686.02,355.22 L1687.74,354.10 L1689.44,352.96 L1691.13,351.81 L1692.81,350.64 L1694.49,349.46 L1696.15,348.26 L1697.81,347.05 L1699.46,345.84 L1701.10,344.61 L1702.73,343.38 L1704.37,342.14 L1706.00,340.89 L1707.62,339.64 L1709.24,338.39 L1710.87,337.13 L1712.49,335.87 L1714.11,334.62 L1715.74,333.36 L1717.36,332.11 L1718.99,330.86 L1720.63,329.62 L1722.27,328.38 L1723.91,327.16 L1725.56,325.94 L1727.22,324.73 L1728.89,323.53 L1730.56,322.34 L1732.25,321.16 L1733.95,320.00 L1735.65,318.86 L1737.37,317.73 L1739.11,316.63 L1740.86,315.54 L1742.62,314.47 L1744.40,313.42 L1746.20,312.39" fill="none" stroke="#ff0000" stroke-width="5.2" stroke-linejoin="round" stroke-linecap="round"/>
<path d="M1097.70,508.10 L1098.17,506.27 L1098.65,504.41 L1099.12,502.54 L1099.59,500.64 L1100.06,498.73 L1100.53,496.81 L1100.99,494.87 L1101.45,492.92 L1101.91,490.96 L1102.36,488.99 L1102.81,487.01 L1103.26,485.02 L1103.70,483.03 L1104.13,481.04 L1104.56,479.04 L1104.98,477.04 L1105.39,475.05 L1105.79,473.05 L1106.18,471.06 L1106.57,469.07 L1106.95,467.09 L1107.31,465.12 L1107.67,463.15 L1108.01,461.20 L1108.34,459.26 L1108.66,457.33 L1108.97,455.42 L1109.26,453.52 L1109.54,451.64 L1109.81,449.78 L1110.06,447.94 L1110.31,446.10 L1110.56,444.27 L1110.82,442.43 L1111.09,440.58 L1111.39,438.70 L1111.72,436.80 L1112.08,434.86 L1112.49,432.87 L1112.94,430.84 L1113.45,428.74 L1114.03,426.57 L1114.68,424.33 L1115.41,422.02 L1116.22,419.72 L1117.14,417.56 L1118.18,415.65 L1119.34,414.11 L1120.65,413.06 L1122.10,412.58 L1123.66,412.63 L1125.29,413.13 L1126.93,413.98 L1128.53,415.10 L1130.06,416.41 L1131.46,417.83 L1132.72,419.33 L1133.87,420.88 L1134.91,422.51 L1135.86,424.18 L1136.73,425.91 L1137.55,427.69 L1138.32,429.51 L1139.06,431.36 L1139.78,433.25 L1140.51,435.16 L1141.24,437.10 L1142.01,439.05 L1142.82,441.01 L1143.69,442.98 L1144.63,444.95 L1145.67,446.91 L1146.79,448.83 L1147.99,450.63 L1149.26,452.25 L1150.60,453.62 L1152.00,454.68 L1153.45,455.35 L1154.94,455.57 L1156.46,455.30 L1157.98,454.56 L1159.44,453.47 L1160.79,452.12 L1161.99,450.60 L1163.03,448.96 L1163.95,447.20 L1164.74,445.34 L1165.44,443.41 L1166.05,441.43 L1166.61,439.40 L1167.12,437.34 L1167.60,435.28 L1168.06,433.23 L1168.53,431.20 L1168.98,429.18 L1169.44,427.17 L1169.88,425.18 L1170.33,423.20 L1170.76,421.23 L1171.20,419.27 L1171.63,417.31 L1172.05,415.37 L1172.48,413.44 L1172.90,411.51 L1173.31,409.58 L1173.73,407.67 L1174.14,405.75 L1174.55,403.84 L1174.95,401.93 L1175.36,400.03 L1175.76,398.12 L1176.16,396.21 L1176.57,394.31 L1176.97,392.40 L1177.37,390.49 L1177.77,388.57 L1178.17,386.65 L1178.57,384.73 L1178.97,382.80 L1179.37,380.86 L1179.78,378.92 L1180.18,376.96 L1180.59,375.00 L1181.00,373.04 L1181.42,371.07 L1181.86,369.10 L1182.31,367.14 L1182.79,365.19 L1183.29,363.25 L1183.83,361.33 L1184.40,359.43 L1185.00,357.55 L1185.65,355.70 L1186.35,353.88 L1187.08,352.09 L1187.85,350.31 L1188.65,348.54 L1189.47,346.77 L1190.32,345.01 L1191.19,343.25 L1192.08,341.49 L1192.98,339.74 L1193.91,337.99 L1194.84,336.24 L1195.79,334.50 L1196.75,332.75 L1197.71,331.00 L1198.69,329.26 L1199.66,327.51 L1200.64,325.76 L1201.62,324.01 L1202.60,322.26 L1203.58,320.50 L1204.55,318.75 L1205.51,316.98 L1206.46,315.22 L1207.40,313.45 L1208.33,311.68 L1209.25,309.89 L1210.15,308.11 L1211.02,306.32 L1211.88,304.52 L1212.72,302.71 L1213.54,300.90 L1214.33,299.08 L1215.11,297.25 L1215.87,295.42 L1216.61,293.58 L1217.34,291.74 L1218.06,289.89 L1218.76,288.04 L1219.46,286.19 L1220.14,284.33 L1220.82,282.47 L1221.49,280.60 L1222.15,278.74 L1222.81,276.87 L1223.46,275.00 L1224.12,273.13 L1224.77,271.27 L1225.42,269.40 L1226.08,267.53 L1226.74,265.66 L1227.40,263.79 L1228.07,261.92 L1228.74,260.06 L1229.42,258.20 L1230.11,256.33 L1230.81,254.47 L1231.51,252.62 L1232.21,250.76 L1232.92,248.91 L1233.64,247.05 L1234.36,245.20 L1235.08,243.35 L1235.81,241.50 L1236.55,239.65 L1237.29,237.80 L1238.03,235.96 L1238.77,234.11 L1239.52,232.27 L1240.28,230.42 L1241.03,228.58 L1241.79,226.74 L1242.56,224.90 L1243.32,223.06 L1244.09,221.22 L1244.86,219.38 L1245.63,217.55 L1246.40,215.71 L1247.17,213.87 L1247.95,212.04 L1248.73,210.20 L1249.50,208.37 L1250.28,206.53 L1251.06,204.70 L1251.84,202.86 L1252.62,201.03 L1253.40,199.19 L1254.18,197.36 L1254.96,195.53 L1255.74,193.69 L1256.52,191.86 L1257.29,190.03 L1258.07,188.19 L1258.84,186.36 L1259.61,184.52 L1260.38,182.69 L1261.15,180.85 L1261.92,179.02 L1262.68,177.18 L1263.44,175.34 L1264.20,173.51 L1264.95,171.67 L1265.70,169.83 L1266.45,167.99 L1267.19,166.15 L1267.93,164.31 L1268.67,162.47 L1269.40,160.62 L1270.13,158.78 L1270.86,156.94 L1271.59,155.10 L1272.31,153.26 L1273.04,151.41 L1273.77,149.58 L1274.50,147.74 L1275.24,145.90 L1275.98,144.07 L1276.73,142.24 L1277.48,140.42 L1278.25,138.59 L1279.02,136.78 L1279.80,134.96 L1280.59,133.15 L1281.39,131.35 L1282.21,129.55 L1283.04,127.76 L1283.88,125.97 L1284.74,124.19 L1285.62,122.42 L1286.51,120.66 L1287.43,118.90 L1288.36,117.15 L1289.31,115.41 L1290.29,113.68 L1291.28,111.96 L1292.30,110.25 L1293.35,108.55 L1294.42,106.85 L1295.52,105.17 L1296.64,103.50 L1297.79,101.85 L1298.98,100.20 L1300.19,98.57 L1301.43,96.95 L1302.71,95.34 L1304.01,93.75 L1305.35,92.18 L1306.72,90.64 L1308.12,89.13 L1309.56,87.66 L1311.02,86.23 L1312.51,84.85 L1314.02,83.52 L1315.57,82.24 L1317.15,81.02 L1318.75,79.88 L1320.38,78.80 L1322.04,77.79 L1323.72,76.87 L1325.43,76.03 L1327.17,75.28 L1328.93,74.63 L1330.71,74.07 L1332.52,73.62 L1334.36,73.28 L1336.22,73.05 L1338.10,72.94 L1340.00,72.95 L1341.92,73.09 L1343.86,73.36 L1345.82,73.74 L1347.77,74.23 L1349.73,74.82 L1351.68,75.52 L1353.61,76.30 L1355.52,77.16 L1357.41,78.10 L1359.26,79.11 L1361.07,80.18 L1362.84,81.30 L1364.55,82.48 L1366.21,83.69 L1367.81,84.95 L1369.36,86.24 L1370.86,87.56 L1372.31,88.92 L1373.72,90.31 L1375.09,91.73 L1376.42,93.18 L1377.72,94.65 L1378.98,96.14 L1380.22,97.66 L1381.44,99.19 L1382.63,100.74 L1383.81,102.31 L1384.97,103.88 L1386.12,105.47 L1387.26,107.07 L1388.40,108.67 L1389.53,110.28 L1390.65,111.90 L1391.77,113.52 L1392.89,115.15 L1393.99,116.79 L1395.09,118.43 L1396.19,120.08 L1397.28,121.74 L1398.36,123.40 L1399.43,125.07 L1400.50,126.74 L1401.56,128.42 L1402.61,130.11 L1403.66,131.80 L1404.69,133.50 L1405.72,135.21 L1406.74,136.92 L1407.75,138.63 L1408.76,140.36 L1409.75,142.09 L1410.74,143.82 L1411.72,145.56 L1412.69,147.30 L1413.65,149.05 L1414.60,150.81 L1415.54,152.57 L1416.47,154.34 L1417.39,156.11 L1418.30,157.89 L1419.20,159.67 L1420.09,161.46 L1420.97,163.26 L1421.84,165.05 L1422.70,166.86 L1423.54,168.67 L1424.38,170.48 L1425.20,172.30 L1426.01,174.12 L1426.81,175.95 L1427.60,177.79 L1428.38,179.62 L1429.14,181.47 L1429.90,183.31 L1430.64,185.17 L1431.36,187.02 L1432.08,188.88 L1432.78,190.75 L1433.46,192.62 L1434.14,194.49 L1434.80,196.37 L1435.45,198.25 L1436.09,200.14 L1436.73,202.02 L1437.37,203.90 L1438.01,205.78 L1438.67,207.65 L1439.33,209.51 L1440.01,211.37 L1440.71,213.21 L1441.44,215.05 L1442.19,216.87 L1442.97,218.67 L1443.79,220.46 L1444.64,222.22 L1445.54,223.97 L1446.49,225.69 L1447.48,227.40 L1448.53,229.07 L1449.63,230.72 L1450.78,232.35 L1451.96,233.96 L1453.15,235.58 L1454.32,237.21 L1455.46,238.87 L1456.54,240.56 L1457.56,242.29 L1458.52,244.05 L1459.45,245.83 L1460.34,247.64 L1461.22,249.45 L1462.09,251.26 L1462.96,253.07 L1463.85,254.86 L1464.76,256.64 L1465.68,258.40 L1466.62,260.15 L1467.57,261.89 L1468.54,263.62 L1469.52,265.33 L1470.52,267.03 L1471.53,268.73 L1472.56,270.41 L1473.59,272.08 L1474.64,273.74 L1475.71,275.40 L1476.78,277.05 L1477.87,278.69 L1478.97,280.32 L1480.07,281.95 L1481.19,283.57 L1482.32,285.18 L1483.46,286.80 L1484.61,288.40 L1485.77,290.01 L1486.93,291.61 L1488.11,293.21 L1489.29,294.80 L1490.48,296.40 L1491.68,297.99 L1492.88,299.58 L1494.09,301.18 L1495.31,302.77 L1496.53,304.37 L1497.75,305.97 L1498.98,307.57 L1500.22,309.17 L1501.46,310.78 L1502.71,312.39 L1503.96,314.00 L1505.22,315.60 L1506.49,317.19 L1507.77,318.77 L1509.08,320.32 L1510.40,321.85 L1511.74,323.34 L1513.10,324.80 L1514.50,326.22 L1515.92,327.59 L1517.37,328.91 L1518.85,330.18 L1520.37,331.38 L1521.93,332.52 L1523.53,333.59 L1525.17,334.59 L1526.85,335.51 L1528.57,336.38 L1530.32,337.19 L1532.10,337.96 L1533.92,338.69 L1535.75,339.39 L1537.62,340.08 L1539.50,340.75 L1541.39,341.41 L1543.30,342.09 L1545.22,342.77 L1547.15,343.47 L1549.08,344.21 L1551.01,344.97 L1552.94,345.73 L1554.87,346.49 L1556.80,347.21 L1558.73,347.89 L1560.66,348.49 L1562.58,349.01 L1564.50,349.42 L1566.41,349.71 L1568.31,349.85 L1570.20,349.83 L1572.09,349.67 L1573.97,349.38 L1575.84,348.96 L1577.70,348.43 L1579.55,347.81 L1581.39,347.11 L1583.22,346.33 L1585.05,345.48 L1586.86,344.59 L1588.66,343.67 L1590.46,342.72 L1592.24,341.75 L1594.01,340.78 L1595.77,339.80 L1597.53,338.82 L1599.27,337.83 L1601.01,336.84 L1602.74,335.84 L1604.46,334.83 L1606.17,333.82 L1607.88,332.81 L1609.59,331.79 L1611.28,330.77 L1612.98,329.74 L1614.67,328.71 L1616.35,327.68 L1618.03,326.64 L1619.71,325.60 L1621.39,324.55 L1623.07,323.51 L1624.74,322.46 L1626.42,321.40 L1628.09,320.35 L1629.77,319.29 L1631.44,318.23 L1633.12,317.17 L1634.80,316.11 L1636.47,315.04 L1638.15,313.97 L1639.82,312.89 L1641.49,311.82 L1643.16,310.73 L1644.83,309.65 L1646.50,308.56 L1648.16,307.46 L1649.82,306.36 L1651.48,305.25 L1653.13,304.14 L1654.78,303.02 L1656.43,301.90 L1658.07,300.77 L1659.70,299.63 L1661.34,298.49 L1662.96,297.33 L1664.58,296.18 L1666.20,295.01 L1667.81,293.83 L1669.41,292.65 L1671.00,291.46 L1672.59,290.26 L1674.17,289.05 L1675.74,287.83 L1677.30,286.60 L1678.86,285.36 L1680.41,284.11 L1681.94,282.85 L1683.47,281.58 L1684.99,280.30 L1686.50,279.01 L1688.00,277.70 L1689.49,276.39 L1690.97,275.07 L1692.45,273.73 L1693.91,272.39 L1695.37,271.05 L1696.83,269.69 L1698.27,268.33 L1699.72,266.96 L1701.16,265.59 L1702.59,264.21 L1704.02,262.83 L1705.45,261.45 L1706.87,260.06 L1708.29,258.67 L1709.72,257.27 L1711.14,255.88 L1712.55,254.49 L1713.97,253.09 L1715.39,251.70 L1716.81,250.30 L1718.24,248.91 L1719.66,247.52 L1721.09,246.14 L1722.52,244.75 L1723.95,243.37 L1725.39,242.00 L1726.83,240.63 L1728.28,239.26 L1729.73,237.91 L1731.19,236.56 L1732.66,235.21 L1734.13,233.88 L1735.62,232.55 L1737.11,231.23 L1738.60,229.92 L1740.11,228.63 L1741.63,227.34 L1743.16,226.07 L1744.70,224.80 L1746.25,223.55" fill="none" stroke="#ff8000" stroke-width="5.2" stroke-linejoin="round" stroke-linecap="round"/>
<path d="M1097.62,473.55 L1097.97,471.55 L1098.31,469.56 L1098.65,467.57 L1099.00,465.59 L1099.34,463.62 L1099.69,461.65 L1100.03,459.69 L1100.37,457.73 L1100.72,455.78 L1101.06,453.84 L1101.41,451.89 L1101.75,449.96 L1102.09,448.02 L1102.43,446.09 L1102.78,444.16 L1103.12,442.23 L1103.46,440.30 L1103.80,438.38 L1104.13,436.46 L1104.47,434.54 L1104.81,432.61 L1105.14,430.69 L1105.48,428.77 L1105.81,426.85 L1106.14,424.92 L1106.47,423.00 L1106.80,421.07 L1107.13,419.14 L1107.45,417.20 L1107.78,415.27 L1108.10,413.33 L1108.42,411.39 L1108.74,409.44 L1109.05,407.49 L1109.37,405.53 L1109.68,403.57 L1109.99,401.60 L1110.29,399.63 L1110.60,397.65 L1110.90,395.66 L1111.20,393.67 L1111.49,391.66 L1111.79,389.65 L1112.08,387.64 L1112.36,385.61 L1112.65,383.57 L1112.93,381.53 L1113.24,379.49 L1113.57,377.46 L1113.97,375.45 L1114.43,373.48 L1114.99,371.54 L1115.65,369.66 L1116.44,367.84 L1117.38,366.09 L1118.48,364.43 L1119.75,362.88 L1121.16,361.58 L1122.66,360.66 L1124.21,360.25 L1125.77,360.47 L1127.32,361.24 L1128.82,362.45 L1130.26,363.96 L1131.61,365.64 L1132.84,367.37 L1133.94,369.09 L1134.93,370.78 L1135.83,372.48 L1136.65,374.19 L1137.42,375.92 L1138.16,377.70 L1138.88,379.54 L1139.59,381.45 L1140.32,383.42 L1141.06,385.42 L1141.83,387.45 L1142.63,389.49 L1143.46,391.50 L1144.34,393.49 L1145.26,395.41 L1146.24,397.27 L1147.28,399.03 L1148.40,400.68 L1149.58,402.20 L1150.85,403.57 L1152.21,404.76 L1153.62,405.65 L1155.04,406.03 L1156.41,405.74 L1157.71,404.82 L1158.93,403.49 L1160.08,401.94 L1161.15,400.33 L1162.14,398.68 L1163.06,397.00 L1163.90,395.27 L1164.68,393.52 L1165.40,391.73 L1166.05,389.92 L1166.65,388.08 L1167.20,386.21 L1167.70,384.32 L1168.16,382.40 L1168.58,380.47 L1168.96,378.52 L1169.30,376.55 L1169.62,374.58 L1169.91,372.59 L1170.17,370.58 L1170.42,368.58 L1170.65,366.56 L1170.88,364.54 L1171.09,362.53 L1171.30,360.51 L1171.51,358.49 L1171.72,356.47 L1171.93,354.46 L1172.14,352.44 L1172.35,350.43 L1172.57,348.43 L1172.78,346.42 L1173.00,344.42 L1173.23,342.42 L1173.46,340.42 L1173.69,338.43 L1173.94,336.44 L1174.19,334.45 L1174.44,332.47 L1174.71,330.49 L1174.98,328.51 L1175.27,326.54 L1175.56,324.58 L1175.87,322.62 L1176.19,320.66 L1176.52,318.71 L1176.87,316.77 L1177.23,314.83 L1177.60,312.89 L1177.99,310.96 L1178.40,309.04 L1178.83,307.13 L1179.27,305.22 L1179.73,303.31 L1180.21,301.42 L1180.71,299.53 L1181.23,297.65 L1181.77,295.77 L1182.33,293.91 L1182.92,292.05 L1183.53,290.19 L1184.16,288.35 L1184.82,286.52 L1185.50,284.69 L1186.21,282.87 L1186.93,281.06 L1187.68,279.25 L1188.45,277.45 L1189.23,275.66 L1190.04,273.87 L1190.86,272.09 L1191.69,270.31 L1192.55,268.54 L1193.41,266.77 L1194.29,265.01 L1195.19,263.25 L1196.09,261.50 L1197.00,259.74 L1197.93,258.00 L1198.86,256.25 L1199.81,254.50 L1200.75,252.76 L1201.71,251.02 L1202.67,249.28 L1203.64,247.54 L1204.60,245.80 L1205.58,244.06 L1206.55,242.33 L1207.52,240.59 L1208.50,238.85 L1209.47,237.11 L1210.44,235.37 L1211.41,233.62 L1212.37,231.88 L1213.33,230.13 L1214.29,228.38 L1215.23,226.63 L1216.17,224.87 L1217.11,223.11 L1218.03,221.35 L1218.94,219.58 L1219.85,217.81 L1220.74,216.03 L1221.61,214.24 L1222.48,212.45 L1223.33,210.66 L1224.16,208.86 L1224.98,207.05 L1225.78,205.24 L1226.57,203.42 L1227.35,201.60 L1228.12,199.77 L1228.88,197.94 L1229.62,196.10 L1230.36,194.26 L1231.09,192.42 L1231.81,190.57 L1232.52,188.73 L1233.23,186.88 L1233.93,185.02 L1234.63,183.17 L1235.32,181.32 L1236.01,179.46 L1236.71,177.61 L1237.39,175.75 L1238.08,173.90 L1238.77,172.05 L1239.46,170.19 L1240.16,168.34 L1240.85,166.50 L1241.56,164.65 L1242.26,162.81 L1242.97,160.97 L1243.69,159.13 L1244.41,157.30 L1245.15,155.47 L1245.89,153.64 L1246.64,151.82 L1247.40,150.01 L1248.18,148.20 L1248.96,146.40 L1249.76,144.60 L1250.58,142.81 L1251.40,141.03 L1252.24,139.26 L1253.10,137.49 L1253.97,135.73 L1254.86,133.97 L1255.76,132.23 L1256.68,130.49 L1257.61,128.77 L1258.56,127.05 L1259.53,125.34 L1260.51,123.64 L1261.51,121.95 L1262.53,120.26 L1263.57,118.59 L1264.62,116.93 L1265.70,115.28 L1266.79,113.64 L1267.90,112.01 L1269.03,110.39 L1270.18,108.78 L1271.34,107.19 L1272.53,105.60 L1273.74,104.03 L1274.97,102.47 L1276.22,100.92 L1277.49,99.39 L1278.79,97.86 L1280.10,96.36 L1281.44,94.86 L1282.80,93.38 L1284.18,91.91 L1285.58,90.45 L1287.01,89.01 L1288.46,87.59 L1289.94,86.18 L1291.44,84.78 L1292.96,83.41 L1294.51,82.08 L1296.09,80.80 L1297.69,79.59 L1299.31,78.44 L1300.97,77.39 L1302.65,76.43 L1304.36,75.59 L1306.11,74.87 L1307.88,74.29 L1309.68,73.85 L1311.51,73.58 L1313.37,73.47 L1315.27,73.55 L1317.18,73.80 L1319.11,74.19 L1321.05,74.73 L1322.98,75.39 L1324.89,76.15 L1326.79,77.00 L1328.65,77.93 L1330.47,78.92 L1332.25,79.96 L1333.97,81.05 L1335.66,82.17 L1337.30,83.34 L1338.90,84.55 L1340.47,85.79 L1341.99,87.07 L1343.48,88.38 L1344.94,89.72 L1346.36,91.08 L1347.76,92.48 L1349.12,93.89 L1350.46,95.33 L1351.77,96.79 L1353.06,98.27 L1354.32,99.77 L1355.56,101.29 L1356.77,102.82 L1357.96,104.38 L1359.14,105.95 L1360.29,107.54 L1361.42,109.14 L1362.54,110.76 L1363.64,112.39 L1364.72,114.03 L1365.79,115.68 L1366.85,117.35 L1367.89,119.03 L1368.93,120.71 L1369.95,122.41 L1370.96,124.11 L1371.96,125.82 L1372.96,127.53 L1373.95,129.25 L1374.93,130.98 L1375.91,132.71 L1376.89,134.44 L1377.86,136.17 L1378.83,137.91 L1379.80,139.64 L1380.78,141.38 L1381.75,143.12 L1382.72,144.85 L1383.70,146.58 L1384.69,148.31 L1385.68,150.03 L1386.67,151.75 L1387.68,153.46 L1388.69,155.16 L1389.71,156.86 L1390.74,158.55 L1391.78,160.23 L1392.84,161.90 L1393.91,163.56 L1394.99,165.21 L1396.09,166.85 L1397.21,168.47 L1398.33,170.09 L1399.46,171.70 L1400.59,173.31 L1401.70,174.93 L1402.80,176.56 L1403.88,178.20 L1404.93,179.86 L1405.94,181.54 L1406.92,183.26 L1407.84,185.00 L1408.72,186.78 L1409.55,188.59 L1410.36,190.41 L1411.16,192.24 L1411.95,194.08 L1412.74,195.91 L1413.56,197.73 L1414.40,199.53 L1415.29,201.30 L1416.22,203.03 L1417.22,204.72 L1418.28,206.37 L1419.38,207.99 L1420.53,209.58 L1421.70,211.15 L1422.88,212.71 L1424.08,214.27 L1425.27,215.83 L1426.46,217.39 L1427.62,218.97 L1428.75,220.57 L1429.84,222.20 L1430.88,223.86 L1431.87,225.57 L1432.78,227.32 L1433.61,229.13 L1434.36,230.99 L1435.06,232.90 L1435.70,234.84 L1436.30,236.80 L1436.88,238.78 L1437.44,240.76 L1438.01,242.74 L1438.58,244.71 L1439.18,246.65 L1439.82,248.56 L1440.51,250.42 L1441.26,252.24 L1442.08,253.99 L1442.99,255.67 L1444.00,257.27 L1445.12,258.79 L1446.37,260.21 L1447.71,261.54 L1449.15,262.82 L1450.64,264.06 L1452.19,265.28 L1453.75,266.49 L1455.33,267.71 L1456.89,268.97 L1458.43,270.28 L1459.93,271.63 L1461.42,273.00 L1462.91,274.38 L1464.38,275.75 L1465.87,277.10 L1467.36,278.41 L1468.88,279.67 L1470.43,280.85 L1472.01,281.95 L1473.63,282.96 L1475.31,283.85 L1477.04,284.62 L1478.81,285.30 L1480.63,285.90 L1482.48,286.43 L1484.36,286.90 L1486.26,287.32 L1488.19,287.71 L1490.14,288.09 L1492.10,288.46 L1494.07,288.83 L1496.04,289.23 L1498.00,289.66 L1499.96,290.14 L1501.91,290.68 L1503.85,291.27 L1505.77,291.92 L1507.69,292.60 L1509.59,293.30 L1511.49,294.00 L1513.38,294.68 L1515.27,295.34 L1517.16,295.96 L1519.05,296.51 L1520.94,297.00 L1522.83,297.40 L1524.72,297.69 L1526.63,297.86 L1528.54,297.91 L1530.46,297.80 L1532.39,297.54 L1534.33,297.15 L1536.28,296.65 L1538.24,296.08 L1540.20,295.47 L1542.16,294.83 L1544.12,294.21 L1546.09,293.63 L1548.05,293.12 L1550.01,292.70 L1551.96,292.41 L1553.90,292.27 L1555.83,292.32 L1557.76,292.54 L1559.68,292.85 L1561.60,293.16 L1563.52,293.38 L1565.45,293.41 L1567.39,293.24 L1569.32,292.88 L1571.24,292.35 L1573.13,291.67 L1574.99,290.88 L1576.80,289.98 L1578.55,289.00 L1580.25,287.95 L1581.89,286.84 L1583.49,285.68 L1585.04,284.46 L1586.54,283.20 L1588.01,281.89 L1589.45,280.55 L1590.86,279.18 L1592.25,277.78 L1593.62,276.35 L1594.98,274.92 L1596.33,273.47 L1597.67,272.01 L1599.02,270.56 L1600.36,269.10 L1601.72,267.66 L1603.08,266.22 L1604.45,264.78 L1605.82,263.36 L1607.20,261.94 L1608.58,260.52 L1609.97,259.11 L1611.37,257.70 L1612.77,256.30 L1614.17,254.91 L1615.58,253.51 L1617.00,252.12 L1618.41,250.74 L1619.83,249.36 L1621.26,247.98 L1622.68,246.61 L1624.11,245.23 L1625.54,243.86 L1626.98,242.49 L1628.41,241.13 L1629.85,239.76 L1631.29,238.40 L1632.73,237.04 L1634.17,235.68 L1635.61,234.32 L1637.05,232.96 L1638.49,231.60 L1639.93,230.24 L1641.37,228.88 L1642.80,227.52 L1644.24,226.16 L1645.68,224.79 L1647.11,223.43 L1648.54,222.06 L1649.97,220.70 L1651.40,219.33 L1652.82,217.95 L1654.25,216.58 L1655.66,215.20 L1657.08,213.82 L1658.49,212.44 L1659.89,211.05 L1661.30,209.65 L1662.69,208.26 L1664.09,206.86 L1665.47,205.45 L1666.86,204.04 L1668.23,202.62 L1669.60,201.20 L1670.96,199.78 L1672.32,198.34 L1673.67,196.90 L1675.01,195.46 L1676.35,194.00 L1677.68,192.54 L1679.00,191.08 L1680.31,189.60 L1681.61,188.12 L1682.91,186.63 L1684.19,185.13 L1685.47,183.63 L1686.75,182.12 L1688.01,180.60 L1689.27,179.08 L1690.53,177.55 L1691.77,176.02 L1693.02,174.48 L1694.26,172.94 L1695.49,171.40 L1696.72,169.85 L1697.94,168.29 L1699.17,166.74 L1700.38,165.18 L1701.60,163.61 L1702.81,162.05 L1704.02,160.48 L1705.23,158.91 L1706.44,157.34 L1707.64,155.77 L1708.85,154.20 L1710.05,152.62 L1711.26,151.05 L1712.46,149.48 L1713.67,147.90 L1714.87,146.33 L1716.08,144.76 L1717.29,143.19 L1718.50,141.62 L1719.71,140.06 L1720.92,138.49 L1722.14,136.93 L1723.36,135.37 L1724.58,133.82 L1725.81,132.27 L1727.04,130.72 L1728.28,129.17 L1729.52,127.63 L1730.77,126.10 L1732.02,124.57 L1733.28,123.05 L1734.54,121.53 L1735.81,120.01 L1737.09,118.51 L1738.37,117.01 L1739.66,115.52 L1740.96,114.03 L1742.27,112.55 L1743.59,111.08 L1744.91,109.62 L1746.25,108.16" fill="none" stroke="#0000ff" stroke-width="5.2" stroke-linejoin="round" stroke-linecap="round"/>
<path d="M1097.61,474.60 L1097.90,472.60 L1098.20,470.61 L1098.52,468.61 L1098.84,466.62 L1099.18,464.63 L1099.53,462.65 L1099.88,460.66 L1100.24,458.68 L1100.61,456.70 L1100.98,454.73 L1101.36,452.75 L1101.74,450.78 L1102.12,448.80 L1102.50,446.83 L1102.89,444.85 L1103.27,442.88 L1103.65,440.91 L1104.03,438.93 L1104.40,436.96 L1104.77,434.98 L1105.13,433.01 L1105.48,431.03 L1105.83,429.05 L1106.16,427.07 L1106.49,425.08 L1106.80,423.10 L1107.11,421.11 L1107.39,419.11 L1107.67,417.12 L1107.93,415.12 L1108.17,413.11 L1108.40,411.11 L1108.62,409.10 L1108.84,407.09 L1109.06,405.08 L1109.28,403.07 L1109.51,401.06 L1109.75,399.05 L1110.00,397.04 L1110.26,395.04 L1110.55,393.04 L1110.86,391.04 L1111.20,389.05 L1111.57,387.07 L1111.98,385.09 L1112.42,383.11 L1112.91,381.15 L1113.44,379.19 L1114.02,377.24 L1114.66,375.30 L1115.35,373.37 L1116.10,371.45 L1116.91,369.55 L1117.79,367.65 L1118.74,365.77 L1119.77,363.91 L1120.87,362.20 L1122.05,360.83 L1123.31,359.99 L1124.65,359.87 L1126.06,360.52 L1127.51,361.76 L1128.94,363.44 L1130.33,365.38 L1131.64,367.39 L1132.83,369.37 L1133.92,371.28 L1134.92,373.15 L1135.83,374.99 L1136.68,376.79 L1137.47,378.57 L1138.21,380.34 L1138.91,382.11 L1139.60,383.87 L1140.27,385.65 L1140.93,387.45 L1141.61,389.28 L1142.31,391.14 L1143.04,393.05 L1143.82,395.02 L1144.66,397.04 L1145.55,399.10 L1146.52,401.14 L1147.56,403.12 L1148.69,405.00 L1149.90,406.73 L1151.21,408.26 L1152.60,409.51 L1154.02,410.34 L1155.40,410.55 L1156.69,410.04 L1157.89,408.93 L1159.01,407.37 L1160.04,405.54 L1161.01,403.61 L1161.91,401.68 L1162.74,399.76 L1163.52,397.84 L1164.24,395.93 L1164.92,394.01 L1165.55,392.09 L1166.15,390.17 L1166.71,388.25 L1167.23,386.31 L1167.73,384.37 L1168.21,382.42 L1168.66,380.46 L1169.08,378.50 L1169.49,376.53 L1169.87,374.55 L1170.23,372.57 L1170.58,370.58 L1170.91,368.59 L1171.22,366.59 L1171.52,364.59 L1171.80,362.58 L1172.08,360.57 L1172.34,358.56 L1172.60,356.54 L1172.85,354.53 L1173.09,352.51 L1173.32,350.49 L1173.56,348.47 L1173.79,346.45 L1174.02,344.43 L1174.25,342.40 L1174.49,340.39 L1174.72,338.37 L1174.97,336.35 L1175.21,334.33 L1175.47,332.32 L1175.73,330.31 L1176.01,328.31 L1176.29,326.30 L1176.59,324.30 L1176.90,322.31 L1177.23,320.32 L1177.57,318.34 L1177.94,316.36 L1178.32,314.39 L1178.72,312.42 L1179.15,310.46 L1179.60,308.51 L1180.07,306.57 L1180.57,304.64 L1181.10,302.71 L1181.65,300.79 L1182.23,298.88 L1182.83,296.98 L1183.46,295.09 L1184.11,293.20 L1184.79,291.32 L1185.48,289.45 L1186.20,287.58 L1186.93,285.72 L1187.68,283.86 L1188.45,282.01 L1189.24,280.17 L1190.04,278.33 L1190.86,276.49 L1191.69,274.66 L1192.53,272.84 L1193.38,271.01 L1194.25,269.19 L1195.12,267.38 L1196.00,265.56 L1196.90,263.75 L1197.79,261.94 L1198.70,260.14 L1199.61,258.33 L1200.52,256.53 L1201.43,254.72 L1202.35,252.92 L1203.27,251.12 L1204.19,249.32 L1205.11,247.52 L1206.03,245.72 L1206.94,243.91 L1207.85,242.11 L1208.76,240.30 L1209.66,238.50 L1210.55,236.69 L1211.44,234.88 L1212.32,233.06 L1213.19,231.25 L1214.05,229.43 L1214.89,227.61 L1215.73,225.78 L1216.56,223.95 L1217.38,222.12 L1218.19,220.28 L1219.00,218.45 L1219.79,216.61 L1220.58,214.76 L1221.36,212.92 L1222.13,211.07 L1222.89,209.22 L1223.65,207.36 L1224.40,205.51 L1225.14,203.65 L1225.88,201.78 L1226.61,199.92 L1227.34,198.05 L1228.07,196.18 L1228.78,194.31 L1229.50,192.44 L1230.21,190.56 L1230.92,188.68 L1231.62,186.80 L1232.32,184.92 L1233.02,183.03 L1233.71,181.15 L1234.41,179.26 L1235.10,177.37 L1235.79,175.47 L1236.48,173.58 L1237.17,171.68 L1237.86,169.78 L1238.54,167.88 L1239.23,165.98 L1239.92,164.07 L1240.61,162.17 L1241.30,160.26 L1241.99,158.35 L1242.69,156.45 L1243.39,154.54 L1244.10,152.63 L1244.81,150.73 L1245.53,148.83 L1246.25,146.93 L1246.99,145.04 L1247.73,143.16 L1248.48,141.27 L1249.25,139.40 L1250.02,137.53 L1250.81,135.67 L1251.62,133.82 L1252.44,131.97 L1253.27,130.14 L1254.12,128.32 L1254.99,126.51 L1255.87,124.71 L1256.78,122.92 L1257.70,121.15 L1258.65,119.39 L1259.62,117.64 L1260.61,115.91 L1261.62,114.20 L1262.66,112.50 L1263.72,110.82 L1264.81,109.16 L1265.93,107.52 L1267.07,105.90 L1268.25,104.30 L1269.45,102.71 L1270.68,101.15 L1271.95,99.62 L1273.24,98.10 L1274.57,96.59 L1275.91,95.10 L1277.28,93.61 L1278.68,92.12 L1280.09,90.63 L1281.52,89.14 L1282.97,87.64 L1284.43,86.13 L1285.91,84.60 L1287.41,83.09 L1288.93,81.61 L1290.48,80.18 L1292.06,78.84 L1293.69,77.61 L1295.36,76.50 L1297.08,75.54 L1298.86,74.76 L1300.69,74.16 L1302.57,73.73 L1304.49,73.47 L1306.44,73.35 L1308.40,73.39 L1310.38,73.56 L1312.37,73.86 L1314.35,74.28 L1316.32,74.81 L1318.26,75.45 L1320.18,76.18 L1322.06,76.99 L1323.90,77.88 L1325.68,78.85 L1327.41,79.87 L1329.10,80.97 L1330.74,82.12 L1332.34,83.33 L1333.89,84.59 L1335.40,85.91 L1336.87,87.28 L1338.30,88.69 L1339.69,90.14 L1341.05,91.63 L1342.37,93.16 L1343.66,94.72 L1344.92,96.31 L1346.15,97.93 L1347.35,99.57 L1348.53,101.24 L1349.67,102.92 L1350.80,104.61 L1351.90,106.32 L1352.98,108.04 L1354.05,109.76 L1355.09,111.49 L1356.11,113.23 L1357.12,114.98 L1358.12,116.73 L1359.10,118.49 L1360.06,120.25 L1361.02,122.02 L1361.96,123.79 L1362.89,125.57 L1363.82,127.35 L1364.73,129.13 L1365.64,130.92 L1366.55,132.71 L1367.45,134.50 L1368.35,136.29 L1369.24,138.08 L1370.13,139.88 L1371.02,141.67 L1371.92,143.47 L1372.81,145.26 L1373.71,147.05 L1374.62,148.84 L1375.52,150.64 L1376.43,152.43 L1377.34,154.22 L1378.25,156.00 L1379.17,157.79 L1380.09,159.58 L1381.00,161.37 L1381.92,163.16 L1382.84,164.95 L1383.76,166.74 L1384.68,168.53 L1385.59,170.32 L1386.51,172.12 L1387.42,173.91 L1388.34,175.71 L1389.25,177.51 L1390.15,179.31 L1391.06,181.11 L1391.96,182.91 L1392.85,184.72 L1393.75,186.53 L1394.63,188.34 L1395.52,190.16 L1396.39,191.98 L1397.26,193.80 L1398.13,195.62 L1399.00,197.45 L1399.86,199.27 L1400.72,201.10 L1401.58,202.93 L1402.44,204.76 L1403.30,206.58 L1404.16,208.41 L1405.03,210.23 L1405.90,212.05 L1406.77,213.86 L1407.66,215.68 L1408.55,217.48 L1409.45,219.28 L1410.35,221.08 L1411.27,222.87 L1412.20,224.65 L1413.14,226.43 L1414.10,228.19 L1415.06,229.95 L1416.05,231.70 L1417.05,233.44 L1418.06,235.16 L1419.10,236.88 L1420.15,238.58 L1421.22,240.28 L1422.30,241.97 L1423.39,243.65 L1424.47,245.34 L1425.55,247.02 L1426.62,248.72 L1427.68,250.42 L1428.72,252.13 L1429.74,253.86 L1430.72,255.61 L1431.68,257.37 L1432.59,259.16 L1433.47,260.98 L1434.29,262.83 L1435.06,264.71 L1435.78,266.63 L1436.45,268.57 L1437.08,270.53 L1437.69,272.51 L1438.29,274.49 L1438.88,276.47 L1439.48,278.44 L1440.10,280.39 L1440.75,282.31 L1441.44,284.20 L1442.17,286.05 L1442.97,287.85 L1443.84,289.60 L1444.79,291.28 L1445.84,292.89 L1446.99,294.42 L1448.25,295.87 L1449.61,297.25 L1451.04,298.57 L1452.54,299.86 L1454.06,301.14 L1455.61,302.43 L1457.15,303.73 L1458.68,305.07 L1460.18,306.44 L1461.63,307.86 L1463.02,309.34 L1464.35,310.89 L1465.64,312.47 L1466.93,314.04 L1468.25,315.58 L1469.62,317.03 L1471.10,318.38 L1472.69,319.58 L1474.40,320.65 L1476.18,321.60 L1478.02,322.46 L1479.90,323.23 L1481.78,323.93 L1483.68,324.58 L1485.58,325.18 L1487.49,325.76 L1489.40,326.31 L1491.32,326.84 L1493.24,327.38 L1495.16,327.93 L1497.08,328.50 L1499.00,329.10 L1500.91,329.75 L1502.82,330.44 L1504.72,331.18 L1506.62,331.95 L1508.53,332.73 L1510.43,333.51 L1512.33,334.28 L1514.23,335.02 L1516.14,335.71 L1518.05,336.35 L1519.97,336.92 L1521.90,337.41 L1523.84,337.79 L1525.79,338.06 L1527.75,338.20 L1529.72,338.21 L1531.71,338.06 L1533.70,337.80 L1535.71,337.46 L1537.73,337.05 L1539.75,336.61 L1541.77,336.18 L1543.80,335.77 L1545.82,335.42 L1547.84,335.16 L1549.86,335.01 L1551.87,335.01 L1553.87,335.19 L1555.86,335.52 L1557.84,335.94 L1559.82,336.37 L1561.79,336.73 L1563.76,336.94 L1565.72,336.95 L1567.68,336.72 L1569.63,336.31 L1571.56,335.73 L1573.48,335.01 L1575.36,334.19 L1577.22,333.28 L1579.04,332.33 L1580.82,331.33 L1582.58,330.30 L1584.30,329.23 L1585.99,328.13 L1587.66,327.00 L1589.31,325.85 L1590.94,324.67 L1592.55,323.48 L1594.15,322.27 L1595.73,321.04 L1597.31,319.81 L1598.89,318.57 L1600.46,317.32 L1602.03,316.08 L1603.61,314.84 L1605.19,313.60 L1606.77,312.36 L1608.36,311.13 L1609.95,309.90 L1611.54,308.67 L1613.14,307.44 L1614.74,306.22 L1616.34,304.99 L1617.94,303.77 L1619.54,302.55 L1621.14,301.32 L1622.74,300.10 L1624.34,298.87 L1625.94,297.64 L1627.54,296.41 L1629.14,295.18 L1630.73,293.95 L1632.33,292.71 L1633.91,291.47 L1635.50,290.22 L1637.08,288.98 L1638.66,287.72 L1640.23,286.46 L1641.80,285.20 L1643.37,283.93 L1644.92,282.65 L1646.47,281.37 L1648.02,280.07 L1649.56,278.78 L1651.09,277.47 L1652.61,276.15 L1654.12,274.83 L1655.63,273.50 L1657.12,272.16 L1658.61,270.80 L1660.09,269.44 L1661.55,268.07 L1663.01,266.68 L1664.46,265.29 L1665.90,263.89 L1667.33,262.48 L1668.75,261.06 L1670.17,259.63 L1671.57,258.19 L1672.97,256.75 L1674.37,255.30 L1675.75,253.84 L1677.14,252.38 L1678.51,250.91 L1679.88,249.43 L1681.25,247.95 L1682.61,246.46 L1683.96,244.97 L1685.31,243.48 L1686.66,241.98 L1688.01,240.48 L1689.35,238.97 L1690.69,237.47 L1692.03,235.96 L1693.37,234.45 L1694.70,232.93 L1696.03,231.42 L1697.37,229.90 L1698.70,228.39 L1700.03,226.87 L1701.36,225.35 L1702.70,223.84 L1704.03,222.32 L1705.37,220.81 L1706.70,219.30 L1708.04,217.79 L1709.38,216.28 L1710.73,214.78 L1712.08,213.28 L1713.43,211.78 L1714.78,210.29 L1716.14,208.80 L1717.50,207.32 L1718.87,205.84 L1720.25,204.36 L1721.62,202.90 L1723.01,201.43 L1724.40,199.98 L1725.80,198.53 L1727.20,197.09 L1728.62,195.65 L1730.03,194.23 L1731.46,192.81 L1732.90,191.40 L1734.34,190.00 L1735.80,188.61 L1737.26,187.23 L1738.73,185.86 L1740.22,184.50 L1741.71,183.15 L1743.22,181.81 L1744.73,180.49 L1746.26,179.18" fill="none" stroke="#00a0ff" stroke-width="5.2" stroke-linejoin="round" stroke-linecap="round"/>
<line x1="1549.4" y1="42.00" x2="1615.9" y2="42.00" stroke="#ff0000" stroke-width="5" stroke-linecap="round"/>
<text transform="translate(1623.90,52.10) scale(1.0,1.04)" font-size="29.7">MS</text>
<line x1="1549.4" y1="78.40" x2="1615.9" y2="78.40" stroke="#ff8000" stroke-width="5" stroke-linecap="round"/>
<text transform="translate(1623.90,88.50) scale(1.0,1.04)" font-size="29.7">CA</text>
<line x1="1549.4" y1="114.80" x2="1615.9" y2="114.80" stroke="#0000ff" stroke-width="5" stroke-linecap="round"/>
<text transform="translate(1623.90,124.90) scale(1.0,1.04)" font-size="29.7">AD</text>
<line x1="1549.4" y1="151.20" x2="1615.9" y2="151.20" stroke="#00a0ff" stroke-width="5" stroke-linecap="round"/>
<text transform="translate(1623.90,161.30) scale(1.0,1.04)" font-size="29.7">CE</text>
<text transform="translate(971.50,52.60) scale(1.0,1.04)" font-size="65.5" font-weight="bold">B</text>
<rect x="1111.2" y="740.9" width="616.60" height="496.10" fill="none" stroke="#000" stroke-width="2.6"/>
<line x1="1102.20" y1="740.90" x2="1111.2" y2="740.90" stroke="#000" stroke-width="2.6"/>
<text transform="translate(1094.30,749.50) scale(1.0,1.04)" font-size="28.2" text-anchor="end">415</text>
<line x1="1102.20" y1="802.91" x2="1111.2" y2="802.91" stroke="#000" stroke-width="2.6"/>
<text transform="translate(1094.30,811.51) scale(1.0,1.04)" font-size="28.2" text-anchor="end">410</text>
<line x1="1102.20" y1="864.92" x2="1111.2" y2="864.92" stroke="#000" stroke-width="2.6"/>
<text transform="translate(1094.30,873.52) scale(1.0,1.04)" font-size="28.2" text-anchor="end">405</text>
<line x1="1102.20" y1="926.94" x2="1111.2" y2="926.94" stroke="#000" stroke-width="2.6"/>
<text transform="translate(1094.30,935.54) scale(1.0,1.04)" font-size="28.2" text-anchor="end">400</text>
<line x1="1102.20" y1="988.95" x2="1111.2" y2="988.95" stroke="#000" stroke-width="2.6"/>
<text transform="translate(1094.30,997.55) scale(1.0,1.04)" font-size="28.2" text-anchor="end">395</text>
<line x1="1102.20" y1="1050.96" x2="1111.2" y2="1050.96" stroke="#000" stroke-width="2.6"/>
<text transform="translate(1094.30,1059.56) scale(1.0,1.04)" font-size="28.2" text-anchor="end">390</text>
<line x1="1102.20" y1="1112.97" x2="1111.2" y2="1112.97" stroke="#000" stroke-width="2.6"/>
<text transform="translate(1094.30,1121.57) scale(1.0,1.04)" font-size="28.2" text-anchor="end">385</text>
<line x1="1102.20" y1="1174.99" x2="1111.2" y2="1174.99" stroke="#000" stroke-width="2.6"/>
<text transform="translate(1094.30,1183.59) scale(1.0,1.04)" font-size="28.2" text-anchor="end">380</text>
<line x1="1102.20" y1="1237.00" x2="1111.2" y2="1237.00" stroke="#000" stroke-width="2.6"/>
<text transform="translate(1094.30,1245.60) scale(1.0,1.04)" font-size="28.2" text-anchor="end">375</text>
<line x1="1106.70" y1="771.91" x2="1111.2" y2="771.91" stroke="#000" stroke-width="2.6"/>
<line x1="1106.70" y1="833.92" x2="1111.2" y2="833.92" stroke="#000" stroke-width="2.6"/>
<line x1="1106.70" y1="895.93" x2="1111.2" y2="895.93" stroke="#000" stroke-width="2.6"/>
<line x1="1106.70" y1="957.94" x2="1111.2" y2="957.94" stroke="#000" stroke-width="2.6"/>
<line x1="1106.70" y1="1019.96" x2="1111.2" y2="1019.96" stroke="#000" stroke-width="2.6"/>
<line x1="1106.70" y1="1081.97" x2="1111.2" y2="1081.97" stroke="#000" stroke-width="2.6"/>
<line x1="1106.70" y1="1143.98" x2="1111.2" y2="1143.98" stroke="#000" stroke-width="2.6"/>
<line x1="1106.70" y1="1205.99" x2="1111.2" y2="1205.99" stroke="#000" stroke-width="2.6"/>
<line x1="1145.50" y1="1237.0" x2="1145.50" y2="1246.60" stroke="#000" stroke-width="2.6"/>
<text transform="translate(1145.50,1275.00) scale(1.0,1.04)" font-size="28.4" text-anchor="middle">0</text>
<line x1="1213.98" y1="1237.0" x2="1213.98" y2="1246.60" stroke="#000" stroke-width="2.6"/>
<text transform="translate(1213.98,1275.00) scale(1.0,1.04)" font-size="28.4" text-anchor="middle">200</text>
<line x1="1282.46" y1="1237.0" x2="1282.46" y2="1246.60" stroke="#000" stroke-width="2.6"/>
<text transform="translate(1282.46,1275.00) scale(1.0,1.04)" font-size="28.4" text-anchor="middle">400</text>
<line x1="1350.94" y1="1237.0" x2="1350.94" y2="1246.60" stroke="#000" stroke-width="2.6"/>
<text transform="translate(1350.94,1275.00) scale(1.0,1.04)" font-size="28.4" text-anchor="middle">600</text>
<line x1="1419.42" y1="1237.0" x2="1419.42" y2="1246.60" stroke="#000" stroke-width="2.6"/>
<text transform="translate(1419.42,1275.00) scale(1.0,1.04)" font-size="28.4" text-anchor="middle">800</text>
<line x1="1487.90" y1="1237.0" x2="1487.90" y2="1246.60" stroke="#000" stroke-width="2.6"/>
<text transform="translate(1487.90,1275.00) scale(1.0,1.04)" font-size="28.4" text-anchor="middle">1000</text>
<line x1="1556.38" y1="1237.0" x2="1556.38" y2="1246.60" stroke="#000" stroke-width="2.6"/>
<text transform="translate(1556.38,1275.00) scale(1.0,1.04)" font-size="28.4" text-anchor="middle">1200</text>
<line x1="1624.86" y1="1237.0" x2="1624.86" y2="1246.60" stroke="#000" stroke-width="2.6"/>
<text transform="translate(1624.86,1275.00) scale(1.0,1.04)" font-size="28.4" text-anchor="middle">1400</text>
<line x1="1693.34" y1="1237.0" x2="1693.34" y2="1246.60" stroke="#000" stroke-width="2.6"/>
<text transform="translate(1693.34,1275.00) scale(1.0,1.04)" font-size="28.4" text-anchor="middle">1600</text>
<line x1="1109.6000000000001" y1="823.0" x2="1727.8" y2="823.0" stroke="#ff0000" stroke-width="3.6"/>
<line x1="1109.6000000000001" y1="1076.9" x2="1727.8" y2="1076.9" stroke="#0000ff" stroke-width="3.6"/>
<text transform="translate(1414.60,799.60) scale(1.0,1.04)" font-size="25.6" text-anchor="middle" font-weight="bold" fill="#ff0000">Mongolian Steppe and Central Asia</text>
<text transform="translate(1414.40,1055.90) scale(1.0,1.04)" font-size="25.6" text-anchor="middle" font-weight="bold" fill="#0000ff">Central East European Plain and Adriatic Coast</text>
<text transform="translate(1419.20,680.50) scale(1.0,1.04)" font-size="28.15" text-anchor="middle" font-weight="bold">Comparison of Spectroboard and Integarating</text>
<text transform="translate(1419.20,715.40) scale(1.0,1.04)" font-size="28.15" text-anchor="middle" font-weight="bold">Sphere Data for Europe and Asia</text>
<path d="M1145.70,1113.10L1153.40,1120.80L1145.70,1128.50L1138.00,1120.80Z" fill="#000"/>
<path d="M1516.70,1134.90L1524.40,1142.60L1516.70,1150.30L1509.00,1142.60Z" fill="#000"/>
<path d="M1516.70,1144.90L1524.40,1152.60L1516.70,1160.30L1509.00,1152.60Z" fill="#000"/>
<path d="M1700.50,1179.30L1708.20,1187.00L1700.50,1194.70L1692.80,1187.00Z" fill="#000"/>
<text transform="translate(1163.50,1131.10) scale(1.0,1.04)" font-size="25.7" font-weight="bold">Taizé</text>
<text transform="translate(1533.00,1157.90) scale(1.0,1.04)" font-size="25.7" font-weight="bold">Érd 1,2</text>
<text transform="translate(1573.30,1196.50) scale(1.0,1.04)" font-size="25.7" font-weight="bold">Barațcoș</text>
<text transform="translate(1304.10,1322.70) scale(1.0,1.04)" font-size="37.5">Distance [km]</text>
<text transform="translate(1026.00,988.80) rotate(-90) scale(1.0,1.04)" font-size="37.7" text-anchor="middle">Wavelength [nm]</text>
<text transform="translate(981.00,710.40) scale(1.0,1.04)" font-size="65.0" font-weight="bold">C</text></svg></body></html>
